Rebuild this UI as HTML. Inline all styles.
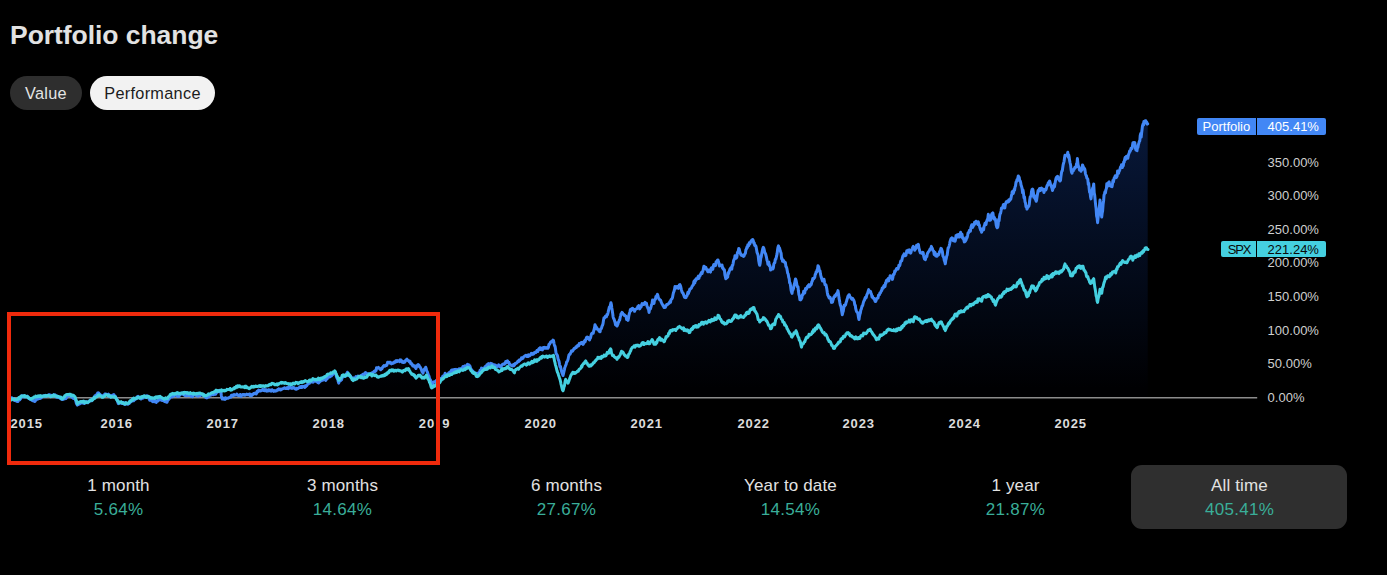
<!DOCTYPE html>
<html><head><meta charset="utf-8"><title>Portfolio change</title>
<style>
html,body{margin:0;padding:0;background:#000;}
body{width:1387px;height:575px;position:relative;overflow:hidden;font-family:"Liberation Sans",sans-serif;color:#e0e0e0;}
.title{position:absolute;left:10px;top:18.7px;font-size:26.5px;font-weight:bold;color:#e2e2e2;line-height:32px;white-space:nowrap;letter-spacing:-0.05px;}
.pill{position:absolute;top:76px;height:33.5px;border-radius:17px;font-size:16.3px;line-height:35.6px;text-align:center;letter-spacing:0.3px;}
.p1{left:10px;width:72px;background:#2e2e2e;color:#e4e4e4;}
.p2{left:90px;width:125px;background:#f2f2f2;color:#1c1c1c;}
.yl{position:absolute;left:1267.6px;font-size:13px;line-height:14px;color:#cfcfcf;}
.xl{position:absolute;top:417px;font-size:13px;font-weight:bold;line-height:14px;color:#dcdcdc;letter-spacing:0.9px;width:60px;text-align:center;margin-left:-30px;}
.tag{position:absolute;height:16.4px;line-height:18.2px;font-size:13px;text-align:center;border-radius:2px 0 0 2px;white-space:nowrap;overflow:hidden;}
.tv{border-radius:0 2px 2px 0;text-align:left;padding-left:10.8px;box-sizing:border-box;}
.st{position:absolute;top:465px;width:216px;height:64px;margin-left:-108px;text-align:center;border-radius:11px;}
.st .a{position:absolute;left:1px;right:0;top:11px;font-size:17px;line-height:20px;color:#e2e2e2;letter-spacing:0.15px;}
.st .b{position:absolute;left:1px;right:0;top:35.4px;font-size:17px;line-height:20px;color:#3aae99;letter-spacing:0.3px;}
.sel{background:#2f2f2f;}
.red{position:absolute;left:7px;top:312px;width:424.9px;height:145.2px;border:4px solid #f02a0c;}
svg{position:absolute;left:0;top:0;}
</style></head><body>
<div class="title">Portfolio change</div>
<div class="pill p1">Value</div>
<div class="pill p2">Performance</div>
<svg width="1387" height="575" viewBox="0 0 1387 575">
<defs><linearGradient id="g" x1="0" y1="110" x2="0" y2="400" gradientUnits="userSpaceOnUse">
<stop offset="0" stop-color="#08193c"/><stop offset="0.96" stop-color="#000002"/></linearGradient></defs>
<path d="M10.5,398.0 L11.0,398.2 L11.4,398.7 L11.9,397.8 L12.3,398.8 L12.8,398.3 L13.3,398.5 L13.7,399.4 L14.2,400.1 L14.6,400.6 L15.1,400.6 L15.6,400.5 L16.0,400.3 L16.5,401.2 L16.9,401.2 L17.4,401.6 L17.9,401.5 L18.3,400.4 L18.8,399.9 L19.3,400.0 L19.8,399.9 L20.2,398.7 L20.7,398.5 L21.2,397.6 L21.7,395.8 L22.1,396.6 L22.6,396.2 L23.1,396.0 L23.6,396.7 L24.1,397.0 L24.5,396.7 L25.0,396.4 L25.5,396.9 L26.0,396.5 L26.5,396.4 L27.0,396.4 L27.5,396.2 L28.0,397.0 L28.4,398.1 L28.9,398.4 L29.4,398.7 L29.9,398.6 L30.4,399.5 L30.9,399.5 L31.3,399.1 L31.8,400.2 L32.2,399.9 L32.7,400.7 L33.2,400.1 L33.6,400.7 L34.1,401.1 L34.5,401.5 L35.0,401.3 L35.5,400.4 L36.0,399.8 L36.4,399.6 L36.9,399.1 L37.4,398.4 L37.9,398.2 L38.4,398.9 L38.8,397.9 L39.3,398.4 L39.8,397.9 L40.3,398.4 L40.7,398.1 L41.2,397.9 L41.7,396.5 L42.2,396.2 L42.6,396.3 L43.1,396.3 L43.5,396.4 L44.0,395.8 L44.4,396.1 L44.9,395.7 L45.4,395.4 L45.8,395.7 L46.3,396.2 L46.7,395.9 L47.2,395.4 L47.7,395.4 L48.1,395.6 L48.6,394.7 L49.0,394.8 L49.5,394.8 L49.9,394.9 L50.4,395.3 L50.9,395.3 L51.3,395.3 L51.8,395.7 L52.3,395.5 L52.7,396.0 L53.2,396.0 L53.7,394.7 L54.1,395.5 L54.6,395.2 L55.1,394.8 L55.5,395.2 L56.0,395.8 L56.5,397.3 L56.9,396.4 L57.4,396.7 L57.9,397.2 L58.3,397.5 L58.8,396.9 L59.3,397.4 L59.7,398.0 L60.2,398.1 L60.7,398.7 L61.2,398.4 L61.6,398.5 L62.1,399.4 L62.6,399.4 L63.0,399.4 L63.5,399.3 L64.0,399.0 L64.5,398.4 L64.9,398.5 L65.4,398.0 L65.9,398.6 L66.4,397.7 L66.8,397.3 L67.3,396.3 L67.8,395.6 L68.3,395.3 L68.7,395.0 L69.2,395.4 L69.7,395.6 L70.1,396.0 L70.6,395.9 L71.1,396.0 L71.5,397.1 L72.0,396.6 L72.5,396.5 L72.9,397.1 L73.4,398.4 L73.9,398.0 L74.3,397.5 L74.8,398.1 L75.3,399.5 L75.8,400.9 L76.4,403.3 L76.9,404.3 L77.4,405.1 L77.9,404.1 L78.4,403.9 L78.8,404.3 L79.3,403.8 L79.8,403.8 L80.3,403.4 L80.7,402.2 L81.2,402.5 L81.7,401.7 L82.2,403.0 L82.6,402.8 L83.1,402.9 L83.6,403.1 L84.0,403.5 L84.5,403.5 L85.0,402.6 L85.5,402.3 L85.9,401.7 L86.4,401.6 L86.9,402.1 L87.3,402.3 L87.8,402.7 L88.3,402.1 L88.8,401.7 L89.3,401.1 L89.8,400.9 L90.2,400.1 L90.7,400.3 L91.2,400.8 L91.7,400.7 L92.2,399.1 L92.7,399.1 L93.1,398.9 L93.6,398.0 L94.0,398.0 L94.5,397.6 L94.9,395.7 L95.4,395.6 L95.8,396.0 L96.3,394.9 L96.7,394.4 L97.2,394.4 L97.6,393.1 L98.1,393.3 L98.5,392.8 L99.0,393.4 L99.5,394.7 L100.0,394.4 L100.5,395.1 L101.1,395.5 L101.6,395.8 L102.1,396.7 L102.6,396.8 L103.1,395.6 L103.6,395.3 L104.1,394.8 L104.5,395.3 L105.0,394.0 L105.5,393.9 L106.0,394.1 L106.5,394.3 L107.0,394.6 L107.4,394.4 L107.9,394.7 L108.4,394.2 L108.9,396.2 L109.4,395.7 L109.9,395.4 L110.3,396.7 L110.8,397.0 L111.3,396.6 L111.8,396.1 L112.3,395.2 L112.8,395.6 L113.3,395.0 L113.8,394.5 L114.3,396.2 L114.8,395.8 L115.3,396.3 L115.8,397.5 L116.3,398.5 L116.8,399.2 L117.3,400.5 L117.8,402.1 L118.3,403.6 L118.8,403.2 L119.2,403.1 L119.7,402.3 L120.2,402.8 L120.7,402.9 L121.1,403.3 L121.6,403.3 L122.1,403.5 L122.6,403.5 L123.0,402.5 L123.5,402.7 L124.0,403.3 L124.5,403.0 L124.9,404.5 L125.4,403.0 L125.9,403.4 L126.4,403.6 L126.8,403.2 L127.3,404.0 L127.8,404.3 L128.3,403.9 L128.8,403.7 L129.3,403.4 L129.8,401.7 L130.2,401.8 L130.7,401.9 L131.2,400.9 L131.7,401.1 L132.2,399.2 L132.7,400.0 L133.1,399.7 L133.6,400.8 L134.0,400.2 L134.5,399.6 L134.9,399.3 L135.4,399.2 L135.8,398.2 L136.3,397.7 L136.7,398.6 L137.2,396.8 L137.6,396.9 L138.1,396.3 L138.5,397.0 L139.0,397.2 L139.5,397.3 L139.9,397.6 L140.4,397.8 L140.9,399.0 L141.3,398.5 L141.8,398.6 L142.2,397.3 L142.7,397.3 L143.2,397.4 L143.6,397.8 L144.1,396.8 L144.6,396.1 L145.0,396.9 L145.5,397.0 L145.9,396.5 L146.4,395.9 L146.9,396.9 L147.3,395.9 L147.8,396.6 L148.3,397.2 L148.7,398.2 L149.2,399.0 L149.7,400.2 L150.2,399.6 L150.6,399.6 L151.1,400.3 L151.6,399.4 L152.1,400.5 L152.5,401.6 L153.0,400.6 L153.5,401.4 L153.9,400.8 L154.4,401.7 L154.9,401.1 L155.3,400.4 L155.8,401.6 L156.3,402.4 L156.7,401.6 L157.2,401.3 L157.7,401.0 L158.1,401.0 L158.6,400.1 L159.1,399.0 L159.5,399.4 L160.0,399.5 L160.5,399.0 L160.9,399.4 L161.4,400.3 L161.9,400.4 L162.3,400.4 L162.8,400.2 L163.3,399.7 L163.7,400.5 L164.2,401.3 L164.7,400.9 L165.1,401.6 L165.6,401.4 L166.1,401.9 L166.5,402.1 L167.0,402.3 L167.5,400.8 L167.9,399.9 L168.4,399.8 L168.8,399.1 L169.3,398.6 L169.7,398.0 L170.2,397.5 L170.6,397.1 L171.1,396.6 L171.5,396.8 L172.0,396.0 L172.5,396.7 L172.9,396.2 L173.4,395.3 L173.8,395.0 L174.3,395.7 L174.8,395.0 L175.2,395.1 L175.7,394.0 L176.1,395.3 L176.6,395.2 L177.1,395.0 L177.5,396.4 L178.0,395.9 L178.5,395.6 L178.9,396.2 L179.4,395.6 L179.8,394.9 L180.3,394.5 L180.8,393.5 L181.2,393.3 L181.7,394.0 L182.1,393.1 L182.6,394.1 L183.1,393.7 L183.5,393.9 L184.0,394.8 L184.4,395.2 L184.9,395.5 L185.3,395.5 L185.8,395.1 L186.2,395.8 L186.7,395.7 L187.1,395.0 L187.6,395.5 L188.0,394.7 L188.5,395.3 L188.9,395.5 L189.4,395.4 L189.8,395.1 L190.3,395.5 L190.7,395.1 L191.2,396.3 L191.6,396.5 L192.1,395.8 L192.5,396.7 L193.0,395.3 L193.4,395.1 L193.9,394.6 L194.3,394.7 L194.8,394.7 L195.3,395.2 L195.7,395.2 L196.2,395.6 L196.6,394.6 L197.1,395.3 L197.6,395.4 L198.0,396.2 L198.5,395.8 L198.9,395.3 L199.4,394.9 L199.9,395.5 L200.3,395.6 L200.8,394.6 L201.2,394.3 L201.7,394.5 L202.2,394.7 L202.7,394.3 L203.1,395.3 L203.6,395.0 L204.1,394.7 L204.6,395.1 L205.0,396.8 L205.5,397.3 L206.0,397.7 L206.5,397.2 L207.0,397.8 L207.5,397.4 L208.0,396.7 L208.4,396.7 L208.9,397.0 L209.4,395.5 L209.9,395.3 L210.4,394.3 L210.9,395.1 L211.3,395.1 L211.8,394.4 L212.3,394.5 L212.8,394.4 L213.2,394.5 L213.7,394.8 L214.2,394.3 L214.6,393.8 L215.1,393.6 L215.6,394.1 L216.1,393.4 L216.5,392.7 L217.0,391.8 L217.5,391.7 L218.0,391.1 L218.5,391.7 L218.9,391.3 L219.4,390.4 L219.9,390.6 L220.4,390.6 L220.9,392.3 L221.3,395.3 L221.8,398.1 L222.3,399.0 L222.7,398.1 L223.2,398.6 L223.7,398.1 L224.1,399.2 L224.6,398.7 L225.1,399.3 L225.5,397.8 L226.0,398.1 L226.5,398.4 L226.9,398.2 L227.4,398.1 L227.9,398.2 L228.3,397.9 L228.8,397.9 L229.2,397.4 L229.7,397.3 L230.1,397.3 L230.6,396.6 L231.0,397.1 L231.5,395.2 L231.9,395.5 L232.4,395.5 L232.8,395.0 L233.3,395.4 L233.7,395.4 L234.2,394.5 L234.6,395.3 L235.1,394.9 L235.5,394.9 L236.0,395.0 L236.5,394.9 L236.9,394.0 L237.4,394.7 L237.9,395.4 L238.4,395.6 L238.8,395.6 L239.3,395.3 L239.8,395.7 L240.2,394.5 L240.7,395.4 L241.2,396.4 L241.6,395.1 L242.1,395.0 L242.6,394.6 L243.1,394.4 L243.5,394.4 L244.0,395.2 L244.5,394.5 L244.9,395.3 L245.4,394.8 L245.8,394.9 L246.3,394.4 L246.7,394.1 L247.2,394.6 L247.6,394.8 L248.1,394.6 L248.5,394.7 L249.0,394.1 L249.4,394.0 L249.9,395.5 L250.3,395.3 L250.8,394.4 L251.2,395.8 L251.7,395.6 L252.2,394.7 L252.6,394.7 L253.1,394.1 L253.5,393.6 L254.0,393.8 L254.4,393.3 L254.9,393.7 L255.4,393.1 L255.8,392.9 L256.3,393.9 L256.7,393.1 L257.2,391.2 L257.7,392.0 L258.1,391.3 L258.6,390.1 L259.0,391.0 L259.5,390.8 L259.9,390.6 L260.4,391.1 L260.9,390.9 L261.3,390.3 L261.8,390.2 L262.3,389.8 L262.8,389.3 L263.2,390.4 L263.7,389.7 L264.2,389.8 L264.6,390.8 L265.1,389.6 L265.6,390.3 L266.1,390.8 L266.5,389.9 L267.0,391.2 L267.5,390.5 L267.9,390.1 L268.4,390.8 L268.8,389.7 L269.3,390.2 L269.7,390.8 L270.2,390.6 L270.6,390.1 L271.1,391.1 L271.6,390.5 L272.0,389.7 L272.5,390.2 L272.9,390.2 L273.4,391.2 L273.8,391.4 L274.3,391.2 L274.8,390.6 L275.2,390.7 L275.7,391.1 L276.1,390.6 L276.6,390.7 L277.0,390.2 L277.5,389.6 L278.0,389.6 L278.4,389.9 L278.9,388.8 L279.3,389.7 L279.8,389.5 L280.3,389.1 L280.7,390.0 L281.2,389.5 L281.6,389.4 L282.1,389.0 L282.5,388.7 L283.0,388.7 L283.5,388.3 L283.9,388.5 L284.4,387.8 L284.9,387.9 L285.4,388.4 L285.8,388.3 L286.3,388.5 L286.8,388.3 L287.2,387.6 L287.7,388.0 L288.2,388.6 L288.6,388.4 L289.1,386.7 L289.6,388.0 L290.1,387.2 L290.5,388.0 L291.0,387.9 L291.5,387.9 L291.9,388.3 L292.4,387.6 L292.8,388.3 L293.3,387.5 L293.7,388.0 L294.2,387.8 L294.6,388.1 L295.1,388.7 L295.5,389.0 L296.0,389.2 L296.4,389.3 L296.9,388.4 L297.3,388.8 L297.8,388.6 L298.2,388.3 L298.7,388.0 L299.2,387.7 L299.6,387.0 L300.1,387.3 L300.6,386.6 L301.0,387.6 L301.5,387.6 L302.0,386.4 L302.4,387.1 L302.9,386.4 L303.4,386.6 L303.9,386.6 L304.3,386.6 L304.8,387.4 L305.3,385.8 L305.7,386.6 L306.2,385.8 L306.7,385.7 L307.1,385.0 L307.6,384.2 L308.1,383.3 L308.5,383.8 L309.0,383.4 L309.5,383.2 L309.9,382.5 L310.4,382.2 L310.8,381.4 L311.3,381.6 L311.7,382.0 L312.2,381.8 L312.6,381.9 L313.1,382.2 L313.5,381.8 L314.0,381.0 L314.5,380.8 L314.9,380.8 L315.4,380.8 L315.9,381.1 L316.3,381.5 L316.8,381.7 L317.3,381.2 L317.7,382.6 L318.2,382.7 L318.7,383.0 L319.1,382.0 L319.6,382.0 L320.1,380.5 L320.5,380.2 L321.0,380.0 L321.5,380.7 L321.9,380.4 L322.4,380.0 L322.9,380.1 L323.3,379.2 L323.8,379.2 L324.3,378.8 L324.7,377.8 L325.2,379.3 L325.7,380.4 L326.1,378.5 L326.6,378.6 L327.1,378.9 L327.5,377.9 L328.0,376.7 L328.5,377.0 L328.9,377.0 L329.4,377.1 L329.9,376.6 L330.3,376.5 L330.8,376.1 L331.3,375.2 L331.7,375.6 L332.2,374.2 L332.7,374.6 L333.1,373.9 L333.6,373.0 L334.1,372.9 L334.5,372.7 L335.0,372.1 L335.5,372.4 L335.9,374.0 L336.4,376.7 L336.9,377.8 L337.3,378.8 L337.8,379.3 L338.2,381.4 L338.7,383.1 L339.2,381.1 L339.6,380.9 L340.1,380.8 L340.6,380.7 L341.1,379.4 L341.6,379.6 L342.0,377.7 L342.5,376.5 L343.0,377.0 L343.5,376.9 L344.0,375.9 L344.5,376.5 L344.9,375.7 L345.4,375.8 L345.9,375.0 L346.4,373.7 L346.9,374.0 L347.4,372.3 L347.9,373.3 L348.3,374.7 L348.8,375.4 L349.3,375.8 L349.8,375.1 L350.2,375.9 L350.7,376.4 L351.2,377.8 L351.7,377.9 L352.1,378.2 L352.6,378.4 L353.1,377.9 L353.6,378.7 L354.1,379.3 L354.6,379.5 L355.1,378.9 L355.5,377.5 L356.0,376.6 L356.5,376.8 L357.0,376.4 L357.5,376.4 L358.0,376.1 L358.5,376.4 L358.9,376.4 L359.4,376.9 L359.8,376.5 L360.3,376.6 L360.7,375.9 L361.2,375.4 L361.6,375.8 L362.1,375.1 L362.5,375.7 L363.0,374.3 L363.5,374.0 L364.0,374.6 L364.5,373.8 L365.0,374.0 L365.5,372.6 L366.0,372.8 L366.5,373.8 L366.9,373.6 L367.4,374.3 L367.9,373.8 L368.3,373.7 L368.8,373.9 L369.2,374.0 L369.6,374.1 L370.1,374.0 L370.6,374.0 L371.0,373.4 L371.5,373.3 L371.9,372.9 L372.4,373.5 L372.8,373.0 L373.3,372.2 L373.8,372.0 L374.2,371.3 L374.7,371.2 L375.2,371.5 L375.6,370.3 L376.1,370.4 L376.5,367.8 L377.0,367.9 L377.5,368.1 L377.9,367.8 L378.4,367.4 L378.8,368.1 L379.3,368.0 L379.7,368.8 L380.2,368.7 L380.6,369.8 L381.1,369.4 L381.5,368.6 L382.0,368.8 L382.5,367.5 L382.9,366.8 L383.4,366.3 L383.9,365.6 L384.3,366.1 L384.8,366.2 L385.3,365.9 L385.7,365.1 L386.2,365.0 L386.7,365.4 L387.1,364.3 L387.6,362.3 L388.1,362.2 L388.5,362.2 L389.0,362.7 L389.5,362.7 L390.0,362.2 L390.5,363.3 L391.0,363.2 L391.5,363.9 L392.0,362.9 L392.5,363.4 L393.0,363.2 L393.5,363.2 L394.0,362.4 L394.4,361.8 L394.9,361.9 L395.4,362.1 L395.9,360.8 L396.4,360.7 L396.8,360.6 L397.3,361.4 L397.8,360.8 L398.3,361.0 L398.7,360.9 L399.2,360.5 L399.7,361.6 L400.2,359.9 L400.6,360.4 L401.1,360.1 L401.6,361.2 L402.1,362.1 L402.5,361.3 L403.0,362.5 L403.5,362.5 L404.0,361.9 L404.4,361.5 L404.9,362.1 L405.4,360.6 L405.9,360.2 L406.4,359.6 L406.9,359.2 L407.3,360.2 L407.8,360.1 L408.3,360.7 L408.8,360.9 L409.3,361.8 L409.8,361.2 L410.2,361.6 L410.7,363.6 L411.2,363.9 L411.7,363.6 L412.2,364.8 L412.7,365.9 L413.1,365.1 L413.6,366.1 L414.1,365.8 L414.6,365.9 L415.0,367.4 L415.5,367.5 L416.0,368.5 L416.5,365.7 L417.1,366.6 L417.6,364.9 L418.2,364.5 L418.7,365.1 L419.2,365.6 L419.7,367.0 L420.1,367.1 L420.6,368.0 L421.1,368.9 L421.6,370.2 L422.0,371.7 L422.5,372.1 L423.0,373.1 L423.5,370.9 L424.1,369.7 L424.6,368.8 L425.2,368.9 L425.7,367.2 L426.2,368.5 L426.6,370.8 L427.1,371.4 L427.6,372.6 L428.1,374.1 L428.5,375.5 L429.0,376.1 L429.4,378.1 L429.9,379.4 L430.4,379.8 L430.8,381.5 L431.2,381.6 L431.7,383.0 L432.2,384.0 L432.6,384.3 L433.5,382.0 L434.0,382.2 L434.5,381.9 L435.0,381.4 L435.5,381.5 L436.0,380.9 L436.5,380.4 L437.0,381.2 L437.5,379.6 L438.0,380.2 L438.4,378.9 L438.9,378.6 L439.4,379.1 L439.9,379.9 L440.4,379.1 L440.9,378.4 L441.3,378.3 L441.8,378.4 L442.3,377.6 L442.7,376.4 L443.2,376.7 L443.7,375.6 L444.1,376.1 L444.6,375.5 L445.1,373.2 L445.5,375.4 L446.0,375.2 L446.5,375.5 L446.9,375.0 L447.4,374.7 L447.9,373.8 L448.3,373.8 L448.8,372.9 L449.2,373.5 L449.7,373.2 L450.1,372.1 L450.6,371.6 L451.0,371.2 L451.5,370.2 L451.9,369.9 L452.4,370.0 L452.8,370.8 L453.3,370.5 L453.7,369.6 L454.2,369.5 L454.6,369.4 L455.1,369.7 L455.5,369.8 L456.0,369.3 L456.5,369.9 L456.9,370.1 L457.4,370.0 L457.8,369.5 L458.3,369.8 L458.8,370.0 L459.2,368.8 L459.7,369.5 L460.2,369.0 L460.6,368.7 L461.1,368.6 L461.5,368.4 L462.0,368.4 L462.5,367.5 L463.0,366.5 L463.5,367.2 L464.0,366.2 L464.5,366.3 L464.9,365.9 L465.4,366.9 L465.9,365.9 L466.4,365.8 L466.9,365.3 L467.4,364.4 L467.9,364.8 L468.3,365.8 L468.8,364.9 L469.3,365.6 L469.8,365.9 L470.2,366.9 L470.7,368.8 L471.2,369.9 L471.7,369.7 L472.1,370.6 L472.6,372.3 L473.1,372.1 L473.5,371.9 L474.0,372.9 L474.5,373.1 L475.0,373.8 L475.4,373.7 L475.9,373.1 L476.4,373.7 L476.9,374.5 L477.3,374.8 L477.8,375.3 L478.3,373.1 L478.7,373.8 L479.2,372.5 L479.7,372.0 L480.1,370.2 L480.6,370.4 L481.1,369.6 L481.5,368.1 L482.0,368.4 L482.5,368.6 L482.9,368.6 L483.4,369.1 L483.8,368.9 L484.3,367.8 L484.7,368.0 L485.2,366.6 L485.6,367.5 L486.1,366.0 L486.5,366.3 L487.0,364.7 L487.5,364.3 L487.9,364.3 L488.4,363.7 L488.9,365.1 L489.3,364.7 L489.8,364.4 L490.3,363.8 L490.7,363.3 L491.2,363.6 L491.7,363.7 L492.1,364.0 L492.6,364.2 L493.1,364.8 L493.5,365.2 L494.0,365.4 L494.5,364.8 L495.0,365.0 L495.4,365.2 L495.9,366.9 L496.4,365.6 L496.9,366.1 L497.3,366.5 L497.8,365.7 L498.3,365.8 L498.7,364.9 L499.2,365.4 L499.7,366.6 L500.2,365.8 L500.6,366.8 L501.1,366.7 L501.6,365.5 L502.1,364.7 L502.5,364.5 L503.0,364.4 L503.5,363.9 L503.9,364.1 L504.4,364.3 L504.8,363.6 L505.3,363.2 L505.7,361.6 L506.2,362.5 L506.6,362.7 L507.1,362.0 L507.5,360.8 L508.0,362.1 L508.5,362.3 L508.9,362.2 L509.4,364.3 L509.8,364.0 L510.3,364.7 L510.8,365.2 L511.2,365.3 L511.7,365.8 L512.2,365.7 L512.6,366.0 L513.1,365.0 L513.5,364.5 L514.0,365.8 L514.5,365.0 L514.9,363.8 L515.4,363.3 L515.9,363.4 L516.4,363.1 L516.8,363.1 L517.3,362.2 L517.8,361.3 L518.2,361.6 L518.7,361.5 L519.2,360.0 L519.6,360.7 L520.1,359.8 L520.6,359.7 L521.1,359.3 L521.5,357.8 L522.0,357.9 L522.5,357.9 L522.9,358.4 L523.4,357.2 L523.9,356.5 L524.3,356.3 L524.8,356.0 L525.3,355.8 L525.7,355.4 L526.2,355.7 L526.7,356.5 L527.2,355.2 L527.6,356.0 L528.1,356.5 L528.6,354.9 L529.0,356.0 L529.5,355.2 L530.0,355.6 L530.4,354.9 L530.9,354.7 L531.4,353.3 L531.8,354.0 L532.3,354.0 L532.7,354.3 L533.2,353.3 L533.6,353.9 L534.1,353.4 L534.6,352.4 L535.0,352.4 L535.5,352.0 L535.9,352.5 L536.4,351.8 L536.9,350.6 L537.3,351.1 L537.8,351.5 L538.2,349.7 L538.7,350.1 L539.1,348.5 L539.6,349.1 L540.1,347.7 L540.5,349.6 L541.0,348.0 L541.5,348.5 L541.9,349.8 L542.4,349.9 L542.9,348.6 L543.3,347.5 L543.8,348.1 L544.3,347.4 L544.7,348.2 L545.2,347.5 L545.7,348.2 L546.1,348.2 L546.6,347.6 L547.1,348.2 L547.5,348.0 L548.0,348.2 L548.5,347.1 L548.9,344.5 L549.4,344.5 L549.8,343.8 L550.3,342.5 L550.8,341.9 L551.2,342.1 L551.7,341.9 L552.1,341.1 L552.6,341.1 L553.0,340.1 L553.5,340.6 L554.0,343.3 L554.5,345.7 L555.0,346.1 L555.5,349.1 L556.0,353.0 L556.5,354.1 L557.0,354.7 L557.5,355.8 L558.0,358.7 L558.5,360.2 L559.0,361.2 L559.5,364.3 L560.0,366.6 L560.5,366.5 L561.0,369.2 L561.5,371.0 L562.0,372.9 L562.5,374.1 L563.0,375.5 L563.5,373.7 L563.9,371.8 L564.4,369.6 L564.8,367.5 L565.2,366.6 L565.7,365.3 L566.2,364.2 L566.6,361.9 L567.1,361.7 L567.6,360.6 L568.1,359.2 L568.5,357.0 L569.0,354.7 L569.5,354.4 L570.0,354.3 L570.5,353.1 L571.0,352.2 L571.5,350.9 L572.0,351.3 L572.5,351.3 L573.0,350.5 L573.5,349.6 L574.0,348.6 L574.4,348.7 L574.9,348.4 L575.4,347.9 L575.9,346.9 L576.4,347.4 L576.8,346.4 L577.3,345.7 L577.8,345.4 L578.3,346.0 L578.7,345.7 L579.2,343.6 L579.7,344.1 L580.2,343.9 L580.6,343.7 L581.1,342.5 L581.6,342.5 L582.1,342.3 L582.5,342.5 L583.0,344.4 L583.5,343.6 L584.0,342.1 L584.5,340.9 L585.0,342.0 L585.5,340.6 L586.0,338.9 L586.5,337.5 L587.0,337.0 L587.5,338.4 L588.0,337.3 L588.5,338.3 L589.0,339.2 L589.5,340.0 L590.0,338.6 L590.5,337.9 L590.9,336.1 L591.4,334.2 L591.8,333.4 L592.3,333.0 L592.7,333.1 L593.2,333.2 L593.6,331.2 L594.1,329.4 L594.5,327.9 L595.0,324.7 L595.5,326.1 L595.9,326.5 L596.4,328.7 L596.8,327.7 L597.3,329.1 L597.8,329.4 L598.2,329.8 L598.7,330.3 L599.1,331.2 L599.6,331.6 L600.1,331.8 L600.6,329.0 L601.1,329.0 L601.6,327.9 L602.0,326.2 L602.5,325.3 L603.0,323.7 L603.5,320.3 L604.0,317.7 L604.5,318.1 L605.0,317.3 L605.5,316.2 L606.0,315.8 L606.5,316.8 L607.0,314.4 L607.5,314.6 L608.0,312.8 L608.5,310.6 L609.0,308.6 L609.4,306.9 L609.9,306.8 L610.4,305.2 L610.9,302.7 L611.4,304.6 L611.8,307.9 L612.2,310.3 L612.7,313.6 L613.1,316.8 L613.6,318.6 L614.1,319.2 L614.6,321.1 L615.1,322.5 L615.5,324.7 L616.0,322.8 L616.5,325.6 L617.0,326.0 L617.5,325.0 L617.9,324.1 L618.4,322.2 L618.8,321.7 L619.3,320.1 L619.7,319.9 L620.2,317.2 L620.6,315.8 L621.1,313.7 L621.5,313.9 L622.0,312.4 L622.5,312.8 L622.9,314.1 L623.4,314.3 L623.8,314.4 L624.3,315.5 L624.8,315.2 L625.2,315.9 L625.7,315.9 L626.2,317.1 L626.6,319.6 L627.1,318.1 L627.5,319.7 L628.0,320.4 L628.5,318.1 L628.9,315.3 L629.4,313.4 L629.9,311.9 L630.4,309.5 L630.8,310.9 L631.3,309.0 L631.8,309.9 L632.2,308.4 L632.7,308.3 L633.2,309.0 L633.6,309.2 L634.1,309.2 L634.6,311.3 L635.0,309.5 L635.5,309.5 L636.0,309.1 L636.4,308.8 L636.9,308.6 L637.4,308.1 L637.8,306.5 L638.3,306.8 L638.8,305.6 L639.2,306.4 L639.7,308.9 L640.2,307.9 L640.7,306.0 L641.2,306.7 L641.6,304.9 L642.1,303.6 L642.6,303.9 L643.1,303.8 L643.6,304.6 L644.0,304.5 L644.5,303.3 L645.0,302.4 L645.5,303.1 L646.0,303.1 L646.5,303.4 L647.0,306.3 L647.5,307.0 L648.0,308.6 L648.5,309.0 L649.0,312.4 L649.5,309.4 L650.0,308.3 L650.5,308.7 L651.0,306.8 L651.5,304.9 L652.0,303.8 L652.5,300.1 L653.0,301.0 L653.5,302.2 L654.0,303.4 L654.5,300.1 L655.0,299.3 L655.4,299.4 L655.9,296.4 L656.4,297.3 L656.9,295.5 L657.4,294.4 L657.9,295.6 L658.3,297.5 L658.8,298.6 L659.3,299.1 L659.8,299.9 L660.2,300.0 L660.7,300.3 L661.2,302.2 L661.7,303.2 L662.1,303.9 L662.6,304.9 L663.1,305.9 L663.5,306.2 L664.0,307.5 L664.4,306.8 L664.9,306.1 L665.3,307.4 L665.8,306.2 L666.3,305.5 L666.7,304.5 L667.2,304.6 L667.7,304.6 L668.2,303.7 L668.6,303.8 L669.1,303.3 L669.6,302.1 L670.1,301.4 L670.5,302.3 L671.0,299.6 L671.5,299.2 L672.0,298.8 L672.5,297.5 L673.0,294.8 L673.5,292.5 L674.0,291.4 L674.5,289.4 L675.0,286.6 L675.5,287.8 L676.0,287.9 L676.5,288.0 L677.0,286.5 L677.5,287.5 L677.9,287.8 L678.4,288.3 L678.9,286.0 L679.4,284.8 L679.9,284.6 L680.4,285.6 L680.9,287.5 L681.3,289.3 L681.8,291.3 L682.2,292.4 L682.7,292.7 L683.1,293.3 L683.6,294.7 L684.0,295.8 L684.5,297.2 L685.0,297.5 L685.5,296.7 L685.9,297.7 L686.4,296.2 L686.9,296.2 L687.4,294.5 L687.9,292.4 L688.4,293.6 L688.8,292.3 L689.3,291.0 L689.8,289.1 L690.2,289.1 L690.7,288.6 L691.1,288.4 L691.6,287.7 L692.0,286.3 L692.5,285.9 L692.9,285.0 L693.4,284.8 L693.9,281.6 L694.3,280.9 L694.8,283.0 L695.2,280.0 L695.6,280.8 L696.1,278.9 L696.5,279.2 L697.0,279.2 L697.5,278.7 L697.9,277.1 L698.4,276.1 L698.9,278.4 L699.3,276.3 L699.8,276.0 L700.2,275.5 L700.7,273.9 L701.2,273.2 L701.6,272.2 L702.1,273.5 L702.5,271.6 L703.0,270.8 L703.5,268.1 L703.9,266.2 L704.4,268.1 L704.9,267.1 L705.3,268.7 L705.8,267.4 L706.3,268.7 L706.7,269.9 L707.2,269.5 L707.7,271.6 L708.1,271.8 L708.6,270.8 L709.1,270.1 L709.5,270.7 L710.0,270.6 L710.5,272.1 L711.0,268.5 L711.4,267.9 L711.9,267.5 L712.4,267.9 L712.8,269.4 L713.3,266.1 L713.8,264.4 L714.2,264.4 L714.7,265.8 L715.2,264.6 L715.6,265.5 L716.1,261.8 L716.6,262.2 L717.1,261.1 L717.5,260.2 L718.0,260.0 L718.5,261.9 L719.0,263.2 L719.5,266.1 L720.0,264.6 L720.5,265.0 L721.0,265.5 L721.5,265.6 L722.0,265.0 L722.5,268.1 L723.0,267.9 L723.4,269.4 L723.9,269.6 L724.4,269.9 L724.9,274.9 L725.3,276.4 L725.8,278.7 L726.3,278.0 L726.8,278.0 L727.2,277.3 L727.7,277.1 L728.1,272.8 L728.6,273.7 L729.0,272.1 L729.5,270.5 L730.0,269.1 L730.4,268.4 L730.9,267.8 L731.3,267.5 L731.8,269.2 L732.2,265.5 L732.7,265.3 L733.1,263.6 L733.6,260.5 L734.1,259.3 L734.5,259.1 L735.0,255.8 L735.5,258.4 L736.0,257.5 L736.4,257.9 L736.9,256.8 L737.4,252.6 L737.9,252.8 L738.3,250.8 L738.8,248.4 L739.3,249.3 L739.7,251.4 L740.2,252.7 L740.7,254.3 L741.2,255.2 L741.6,255.4 L742.1,255.6 L742.6,255.1 L743.1,255.7 L743.5,256.4 L744.0,256.2 L744.5,254.5 L745.0,253.7 L745.4,253.2 L745.9,249.7 L746.4,249.1 L746.9,247.0 L747.4,247.6 L747.9,244.8 L748.3,245.7 L748.8,245.5 L749.3,242.7 L749.8,243.9 L750.3,242.7 L750.8,241.6 L751.3,240.7 L751.8,240.1 L752.3,240.7 L752.8,239.6 L753.3,240.8 L753.8,243.3 L754.2,242.9 L754.7,245.4 L755.2,245.8 L755.6,245.6 L756.1,246.9 L756.6,249.7 L757.1,252.7 L757.6,253.7 L758.2,255.5 L758.7,260.8 L759.2,263.6 L759.7,265.3 L760.2,263.2 L760.7,258.5 L761.2,257.1 L761.8,253.3 L762.3,250.8 L762.8,248.6 L763.3,247.4 L763.7,248.0 L764.2,249.9 L764.7,252.4 L765.1,253.0 L765.6,253.9 L766.1,255.8 L766.5,257.4 L767.0,260.3 L767.5,261.3 L767.9,264.3 L768.4,264.1 L768.8,262.0 L769.3,265.9 L769.7,265.2 L770.2,266.9 L770.6,270.1 L771.1,268.0 L771.5,268.3 L772.0,269.1 L772.4,268.8 L772.9,268.9 L773.4,267.7 L773.8,264.2 L774.3,263.0 L774.8,262.9 L775.2,259.6 L775.7,259.6 L776.2,257.6 L776.6,256.2 L777.1,253.6 L777.6,249.6 L778.0,247.2 L778.5,245.8 L779.0,247.8 L779.5,248.0 L780.0,249.8 L780.6,251.8 L781.1,253.2 L781.6,258.8 L782.1,258.5 L782.5,261.3 L783.0,261.3 L783.5,260.3 L784.0,262.0 L784.4,262.0 L784.9,262.0 L785.4,262.6 L785.9,266.5 L786.3,266.9 L786.8,268.2 L787.3,271.0 L787.7,273.2 L788.2,274.0 L788.7,277.2 L789.2,278.7 L789.6,282.9 L790.1,282.9 L790.6,286.3 L791.1,290.2 L791.5,291.9 L792.0,293.4 L792.5,290.5 L793.0,289.8 L793.5,288.4 L794.0,285.3 L794.5,283.7 L795.0,281.3 L795.5,278.9 L796.0,280.0 L796.5,282.5 L797.0,285.6 L797.5,287.0 L798.0,286.8 L798.4,290.8 L798.9,294.5 L799.4,296.1 L799.9,299.7 L800.4,299.9 L800.9,299.8 L801.3,298.8 L801.8,297.9 L802.3,294.8 L802.8,294.8 L803.2,294.3 L803.7,291.2 L804.2,292.7 L804.7,292.9 L805.1,290.6 L805.6,288.4 L806.1,289.4 L806.6,288.9 L807.0,287.7 L807.5,286.3 L808.0,286.1 L808.5,285.2 L809.0,284.6 L809.5,286.8 L809.9,284.9 L810.4,285.1 L810.9,285.1 L811.4,283.9 L811.8,281.8 L812.3,281.2 L812.8,278.5 L813.3,278.5 L813.7,278.8 L814.2,277.8 L814.7,277.6 L815.2,274.4 L815.6,274.2 L816.1,271.9 L816.6,272.2 L817.1,269.9 L817.5,269.5 L818.0,265.8 L818.5,266.4 L819.0,268.4 L819.5,271.3 L820.0,270.8 L820.5,274.1 L821.0,276.5 L821.5,278.0 L822.0,279.5 L822.5,281.0 L823.0,280.3 L823.5,279.3 L824.0,279.3 L824.5,282.3 L825.0,284.6 L825.5,284.8 L826.0,285.0 L826.4,286.9 L826.9,289.6 L827.3,292.5 L827.8,295.1 L828.2,295.3 L828.7,297.0 L829.1,297.9 L829.6,297.4 L830.1,297.3 L830.6,298.5 L831.0,299.7 L831.5,302.4 L832.0,301.1 L832.5,302.2 L833.0,300.0 L833.4,298.9 L833.9,297.0 L834.3,296.9 L834.8,295.5 L835.2,296.4 L835.7,295.3 L836.2,294.1 L836.6,294.4 L837.1,292.9 L837.5,293.1 L838.0,290.6 L838.5,294.0 L839.0,298.1 L839.4,300.1 L839.9,303.1 L840.4,305.5 L840.9,306.3 L841.3,308.6 L841.8,311.8 L842.3,314.7 L842.8,312.4 L843.2,311.5 L843.7,308.2 L844.2,305.2 L844.6,306.0 L845.1,305.4 L845.6,304.6 L846.0,302.8 L846.5,301.5 L847.0,299.3 L847.4,298.5 L847.9,296.3 L848.4,295.6 L848.8,294.9 L849.3,294.7 L849.7,296.5 L850.2,296.9 L850.6,297.4 L851.1,298.5 L851.6,298.5 L852.0,299.3 L852.5,298.3 L852.9,299.5 L853.4,299.5 L853.9,300.7 L854.3,301.8 L854.8,305.1 L855.3,305.2 L855.7,308.5 L856.2,310.4 L856.7,311.8 L857.1,312.0 L857.6,312.6 L858.1,314.7 L858.5,317.6 L859.0,319.5 L859.5,316.1 L859.9,314.4 L860.4,312.8 L860.8,310.0 L861.2,309.3 L861.7,307.4 L862.1,306.0 L862.6,305.7 L863.0,304.0 L863.5,302.0 L864.0,300.7 L864.4,300.5 L864.9,298.4 L865.4,297.4 L865.9,297.9 L866.3,297.3 L866.8,294.8 L867.3,293.8 L867.8,292.9 L868.2,291.2 L868.7,289.6 L869.2,291.7 L869.6,291.5 L870.1,291.7 L870.6,291.5 L871.0,293.4 L871.5,294.2 L872.0,297.1 L872.4,296.2 L872.9,297.7 L873.4,298.3 L873.8,298.7 L874.3,298.6 L874.8,300.5 L875.2,301.4 L875.7,301.4 L876.2,300.2 L876.6,298.7 L877.1,298.4 L877.6,298.1 L878.0,298.1 L878.5,295.3 L879.0,294.7 L879.4,294.8 L879.9,292.9 L880.4,293.0 L880.8,292.0 L881.3,290.7 L881.8,290.5 L882.2,288.0 L882.7,287.9 L883.2,288.2 L883.6,286.4 L884.1,285.4 L884.5,285.3 L885.0,286.6 L885.5,283.0 L885.9,283.3 L886.4,280.5 L886.9,281.3 L887.3,279.7 L887.8,279.5 L888.2,278.6 L888.7,280.9 L889.2,278.5 L889.6,278.2 L890.1,275.7 L890.6,276.8 L891.0,276.1 L891.5,276.9 L891.9,277.0 L892.4,279.4 L892.9,277.4 L893.3,274.4 L893.8,274.7 L894.3,273.9 L894.7,271.1 L895.2,271.7 L895.7,270.5 L896.1,269.7 L896.6,268.5 L897.1,269.2 L897.5,268.4 L898.0,269.0 L898.5,267.6 L898.9,265.3 L899.4,266.1 L899.9,265.1 L900.3,262.9 L900.8,261.0 L901.3,261.0 L901.7,260.8 L902.2,258.6 L902.7,256.5 L903.1,255.5 L903.6,255.9 L904.1,253.9 L904.5,255.0 L905.0,255.8 L905.4,255.0 L905.9,255.4 L906.3,253.0 L906.8,250.8 L907.3,251.8 L907.7,250.8 L908.2,250.2 L908.6,252.2 L909.1,250.5 L909.5,249.9 L910.0,251.4 L910.5,253.1 L910.9,252.7 L911.4,250.4 L911.9,249.4 L912.3,248.5 L912.8,247.2 L913.3,246.4 L913.8,247.3 L914.2,247.8 L914.7,250.3 L915.2,249.3 L915.6,248.9 L916.1,247.8 L916.6,245.2 L917.0,246.3 L917.5,245.5 L918.0,246.1 L918.4,244.4 L918.9,248.0 L919.4,249.6 L919.8,251.4 L920.3,252.9 L920.8,252.6 L921.2,252.5 L921.7,253.0 L922.2,253.5 L922.6,252.3 L923.1,252.6 L923.6,255.5 L924.0,257.3 L924.5,259.0 L925.0,258.8 L925.4,259.6 L925.9,257.4 L926.3,256.1 L926.8,256.7 L927.3,253.8 L927.7,253.2 L928.2,252.1 L928.6,251.6 L929.1,251.2 L929.6,250.1 L930.0,249.2 L930.5,248.5 L930.9,248.5 L931.4,246.4 L931.9,248.3 L932.3,248.3 L932.8,250.3 L933.3,250.8 L933.7,251.0 L934.2,254.5 L934.7,253.8 L935.1,252.5 L935.6,255.9 L936.1,255.9 L936.5,255.4 L937.0,256.3 L937.5,254.5 L938.0,255.1 L938.5,254.9 L939.0,253.7 L939.5,251.9 L940.0,250.9 L940.5,249.8 L941.0,248.3 L941.5,248.9 L942.0,250.5 L942.4,251.7 L942.9,256.0 L943.4,256.8 L943.9,257.9 L944.3,260.4 L944.8,261.6 L945.3,263.8 L945.8,260.0 L946.2,258.8 L946.7,256.1 L947.2,255.0 L947.7,250.9 L948.1,248.0 L948.6,247.6 L949.1,246.1 L949.6,244.0 L950.0,241.7 L950.5,240.1 L951.0,238.6 L951.5,238.6 L951.9,237.9 L952.4,238.1 L952.8,239.4 L953.3,240.7 L953.7,240.3 L954.2,241.0 L954.6,238.8 L955.1,241.2 L955.5,239.6 L956.0,235.6 L956.5,236.2 L956.9,235.1 L957.4,237.1 L957.8,237.0 L958.3,234.5 L958.8,236.7 L959.2,234.5 L959.7,237.1 L960.2,233.7 L960.6,232.3 L961.1,234.6 L961.5,235.8 L962.0,234.2 L962.5,237.9 L962.9,238.6 L963.4,237.7 L963.9,240.2 L964.3,241.9 L964.8,241.6 L965.3,241.3 L965.7,240.6 L966.2,239.6 L966.7,237.1 L967.1,237.8 L967.6,235.5 L968.1,232.8 L968.5,232.9 L969.0,231.8 L969.5,230.2 L969.9,230.9 L970.4,231.1 L970.9,227.4 L971.3,226.4 L971.8,224.7 L972.3,225.9 L972.7,227.4 L973.2,225.5 L973.7,224.3 L974.1,225.1 L974.6,222.3 L975.1,223.7 L975.5,222.5 L976.0,221.2 L976.5,223.0 L976.9,222.4 L977.4,222.2 L977.9,224.4 L978.3,221.8 L978.8,224.3 L979.3,224.9 L979.7,227.1 L980.2,228.8 L980.7,230.2 L981.1,229.4 L981.6,232.2 L982.1,228.9 L982.6,228.8 L983.1,229.1 L983.6,229.8 L984.0,226.6 L984.5,225.4 L985.0,223.4 L985.5,223.9 L986.0,224.5 L986.5,221.4 L986.9,220.5 L987.4,219.3 L987.8,218.7 L988.3,214.3 L988.8,217.7 L989.2,220.3 L989.7,219.6 L990.2,218.6 L990.6,220.1 L991.1,216.6 L991.5,214.8 L992.0,213.5 L992.5,213.5 L992.9,212.9 L993.4,216.7 L993.9,218.8 L994.4,217.4 L994.8,219.6 L995.3,219.1 L995.8,221.9 L996.2,225.1 L996.7,226.9 L997.2,227.8 L997.7,227.3 L998.1,225.3 L998.6,219.4 L999.1,220.8 L999.5,216.8 L1000.0,214.0 L1000.5,213.3 L1001.0,211.1 L1001.5,208.0 L1001.9,207.9 L1002.4,208.2 L1002.9,207.0 L1003.3,204.7 L1003.8,204.5 L1004.3,204.9 L1004.8,208.0 L1005.2,205.1 L1005.7,203.3 L1006.2,202.0 L1006.6,201.5 L1007.1,202.3 L1007.6,201.0 L1008.0,201.2 L1008.5,201.9 L1009.0,199.7 L1009.4,200.8 L1009.9,200.3 L1010.4,198.9 L1010.8,199.1 L1011.3,196.4 L1011.8,194.1 L1012.2,191.7 L1012.7,192.8 L1013.2,193.6 L1013.6,192.4 L1014.1,189.6 L1014.6,190.0 L1015.0,187.1 L1015.5,186.0 L1016.0,182.2 L1016.4,182.0 L1016.9,179.7 L1017.4,180.5 L1017.8,178.3 L1018.3,175.9 L1018.8,177.1 L1019.2,177.2 L1019.7,180.9 L1020.2,181.0 L1020.7,182.7 L1021.1,185.2 L1021.6,186.6 L1022.1,188.5 L1022.6,192.8 L1023.0,190.1 L1023.5,193.3 L1024.0,197.9 L1024.5,196.8 L1025.0,201.7 L1025.5,203.1 L1026.0,206.7 L1026.5,206.7 L1027.0,209.1 L1027.5,207.7 L1027.9,207.3 L1028.4,206.2 L1028.8,206.3 L1029.3,204.2 L1029.7,200.0 L1030.2,197.0 L1030.6,196.5 L1031.1,195.6 L1031.5,191.7 L1032.0,189.5 L1032.5,189.0 L1032.9,189.6 L1033.4,192.9 L1033.8,197.3 L1034.3,196.6 L1034.8,195.7 L1035.2,199.1 L1035.7,199.7 L1036.2,201.3 L1036.6,200.0 L1037.1,196.5 L1037.6,193.6 L1038.1,190.6 L1038.5,191.5 L1039.0,189.8 L1039.5,188.6 L1040.0,188.6 L1040.4,190.5 L1040.9,188.8 L1041.4,188.0 L1041.9,188.7 L1042.5,189.5 L1043.0,189.0 L1043.5,190.7 L1044.0,192.5 L1044.5,190.2 L1044.9,189.4 L1045.4,189.0 L1045.9,189.9 L1046.3,188.7 L1046.8,186.4 L1047.3,185.2 L1047.7,185.4 L1048.2,183.0 L1048.7,182.5 L1049.1,181.9 L1049.6,181.0 L1050.1,182.4 L1050.6,185.1 L1051.1,185.7 L1051.5,186.9 L1052.0,188.2 L1052.5,190.5 L1053.0,188.4 L1053.5,187.9 L1054.0,184.6 L1054.5,186.9 L1055.0,183.4 L1055.5,180.8 L1056.0,178.3 L1056.5,177.2 L1057.0,176.7 L1057.5,176.3 L1058.0,177.2 L1058.5,179.1 L1059.0,179.5 L1059.5,180.5 L1060.0,181.0 L1060.5,180.4 L1060.9,176.6 L1061.4,173.2 L1061.8,171.2 L1062.3,170.8 L1062.7,167.7 L1063.2,164.6 L1063.6,163.1 L1064.1,161.3 L1064.5,158.1 L1065.0,155.3 L1065.5,155.7 L1065.9,155.5 L1066.4,155.1 L1066.8,155.2 L1067.3,154.0 L1067.8,152.3 L1068.2,157.2 L1068.7,154.8 L1069.2,157.4 L1069.6,160.6 L1070.1,163.0 L1070.6,165.0 L1071.1,169.8 L1071.5,172.0 L1072.0,173.2 L1072.5,170.5 L1072.9,170.9 L1073.3,170.8 L1073.8,169.2 L1074.2,169.3 L1074.7,167.6 L1075.2,167.1 L1075.6,167.5 L1076.1,166.8 L1076.5,163.9 L1077.0,163.2 L1077.4,158.6 L1077.9,163.1 L1078.4,166.8 L1078.9,166.7 L1079.5,170.0 L1080.0,168.4 L1080.5,170.0 L1081.0,171.3 L1081.5,169.8 L1082.0,169.8 L1082.5,164.9 L1083.0,166.1 L1083.5,167.3 L1084.0,168.8 L1084.4,168.3 L1084.9,169.6 L1085.4,173.3 L1085.9,175.2 L1086.4,175.7 L1086.8,178.0 L1087.3,178.4 L1087.8,179.3 L1088.3,184.5 L1088.7,183.1 L1089.2,189.1 L1089.6,192.3 L1090.1,191.9 L1090.5,196.7 L1091.0,198.9 L1091.5,194.9 L1091.9,192.4 L1092.3,189.7 L1092.8,187.5 L1093.2,187.3 L1093.7,183.9 L1094.2,192.9 L1094.7,195.3 L1095.2,200.6 L1095.7,205.6 L1096.1,208.6 L1096.6,215.8 L1097.1,217.9 L1097.6,222.7 L1098.1,217.5 L1098.6,214.3 L1099.0,210.0 L1099.5,205.3 L1100.0,200.1 L1100.6,205.0 L1101.1,212.9 L1101.7,217.1 L1102.2,212.8 L1102.6,211.1 L1103.1,204.4 L1103.6,200.9 L1104.0,195.3 L1104.5,193.7 L1105.0,191.7 L1105.4,192.9 L1105.9,189.7 L1106.4,188.7 L1106.8,183.8 L1107.3,186.5 L1107.8,185.2 L1108.2,182.9 L1108.7,182.6 L1109.2,181.9 L1109.6,185.7 L1110.1,185.7 L1110.6,185.7 L1111.1,186.3 L1111.5,184.9 L1112.0,186.7 L1112.5,184.0 L1112.9,180.6 L1113.4,181.9 L1113.8,179.7 L1114.3,177.7 L1114.8,177.9 L1115.2,175.8 L1115.7,175.5 L1116.2,177.6 L1116.7,176.9 L1117.1,176.1 L1117.6,170.9 L1118.1,173.1 L1118.6,173.2 L1119.1,170.9 L1119.6,170.6 L1120.0,169.0 L1120.5,167.1 L1121.0,167.3 L1121.5,164.8 L1121.9,166.4 L1122.4,167.4 L1122.8,165.1 L1123.3,165.8 L1123.7,162.0 L1124.2,162.3 L1124.6,159.6 L1125.1,157.6 L1125.5,159.6 L1126.0,157.9 L1126.5,156.3 L1126.9,156.9 L1127.4,157.1 L1127.8,158.3 L1128.3,155.5 L1128.7,154.1 L1129.2,153.0 L1129.6,151.1 L1130.1,151.3 L1130.5,150.4 L1131.0,148.4 L1131.5,148.8 L1132.0,148.6 L1132.4,146.2 L1132.9,142.9 L1133.4,142.6 L1133.8,143.6 L1134.3,143.2 L1134.8,142.6 L1135.4,147.8 L1135.9,149.9 L1136.5,150.3 L1137.0,150.7 L1137.4,147.6 L1137.9,147.4 L1138.4,144.4 L1138.8,143.5 L1139.3,141.2 L1139.8,141.0 L1140.2,135.6 L1140.7,133.5 L1141.2,137.1 L1141.6,133.2 L1142.1,129.1 L1142.5,125.8 L1143.0,124.1 L1143.5,125.0 L1143.9,121.5 L1144.4,123.3 L1144.8,122.4 L1145.3,120.7 L1145.8,120.8 L1146.3,121.8 L1146.7,122.1 L1147.2,124.1 L1147.7,123.9 L1147.7,397.5 L10.5,397.5 Z" fill="url(#g)"/>
<rect x="10" y="397" width="1247.2" height="1.5" fill="#8c8c8c"/>
<path d="M10.5,398.0 L11.0,398.2 L11.4,398.7 L11.9,397.8 L12.3,398.8 L12.8,398.3 L13.3,398.5 L13.7,399.4 L14.2,400.1 L14.6,400.6 L15.1,400.6 L15.6,400.5 L16.0,400.3 L16.5,401.2 L16.9,401.2 L17.4,401.6 L17.9,401.5 L18.3,400.4 L18.8,399.9 L19.3,400.0 L19.8,399.9 L20.2,398.7 L20.7,398.5 L21.2,397.6 L21.7,395.8 L22.1,396.6 L22.6,396.2 L23.1,396.0 L23.6,396.7 L24.1,397.0 L24.5,396.7 L25.0,396.4 L25.5,396.9 L26.0,396.5 L26.5,396.4 L27.0,396.4 L27.5,396.2 L28.0,397.0 L28.4,398.1 L28.9,398.4 L29.4,398.7 L29.9,398.6 L30.4,399.5 L30.9,399.5 L31.3,399.1 L31.8,400.2 L32.2,399.9 L32.7,400.7 L33.2,400.1 L33.6,400.7 L34.1,401.1 L34.5,401.5 L35.0,401.3 L35.5,400.4 L36.0,399.8 L36.4,399.6 L36.9,399.1 L37.4,398.4 L37.9,398.2 L38.4,398.9 L38.8,397.9 L39.3,398.4 L39.8,397.9 L40.3,398.4 L40.7,398.1 L41.2,397.9 L41.7,396.5 L42.2,396.2 L42.6,396.3 L43.1,396.3 L43.5,396.4 L44.0,395.8 L44.4,396.1 L44.9,395.7 L45.4,395.4 L45.8,395.7 L46.3,396.2 L46.7,395.9 L47.2,395.4 L47.7,395.4 L48.1,395.6 L48.6,394.7 L49.0,394.8 L49.5,394.8 L49.9,394.9 L50.4,395.3 L50.9,395.3 L51.3,395.3 L51.8,395.7 L52.3,395.5 L52.7,396.0 L53.2,396.0 L53.7,394.7 L54.1,395.5 L54.6,395.2 L55.1,394.8 L55.5,395.2 L56.0,395.8 L56.5,397.3 L56.9,396.4 L57.4,396.7 L57.9,397.2 L58.3,397.5 L58.8,396.9 L59.3,397.4 L59.7,398.0 L60.2,398.1 L60.7,398.7 L61.2,398.4 L61.6,398.5 L62.1,399.4 L62.6,399.4 L63.0,399.4 L63.5,399.3 L64.0,399.0 L64.5,398.4 L64.9,398.5 L65.4,398.0 L65.9,398.6 L66.4,397.7 L66.8,397.3 L67.3,396.3 L67.8,395.6 L68.3,395.3 L68.7,395.0 L69.2,395.4 L69.7,395.6 L70.1,396.0 L70.6,395.9 L71.1,396.0 L71.5,397.1 L72.0,396.6 L72.5,396.5 L72.9,397.1 L73.4,398.4 L73.9,398.0 L74.3,397.5 L74.8,398.1 L75.3,399.5 L75.8,400.9 L76.4,403.3 L76.9,404.3 L77.4,405.1 L77.9,404.1 L78.4,403.9 L78.8,404.3 L79.3,403.8 L79.8,403.8 L80.3,403.4 L80.7,402.2 L81.2,402.5 L81.7,401.7 L82.2,403.0 L82.6,402.8 L83.1,402.9 L83.6,403.1 L84.0,403.5 L84.5,403.5 L85.0,402.6 L85.5,402.3 L85.9,401.7 L86.4,401.6 L86.9,402.1 L87.3,402.3 L87.8,402.7 L88.3,402.1 L88.8,401.7 L89.3,401.1 L89.8,400.9 L90.2,400.1 L90.7,400.3 L91.2,400.8 L91.7,400.7 L92.2,399.1 L92.7,399.1 L93.1,398.9 L93.6,398.0 L94.0,398.0 L94.5,397.6 L94.9,395.7 L95.4,395.6 L95.8,396.0 L96.3,394.9 L96.7,394.4 L97.2,394.4 L97.6,393.1 L98.1,393.3 L98.5,392.8 L99.0,393.4 L99.5,394.7 L100.0,394.4 L100.5,395.1 L101.1,395.5 L101.6,395.8 L102.1,396.7 L102.6,396.8 L103.1,395.6 L103.6,395.3 L104.1,394.8 L104.5,395.3 L105.0,394.0 L105.5,393.9 L106.0,394.1 L106.5,394.3 L107.0,394.6 L107.4,394.4 L107.9,394.7 L108.4,394.2 L108.9,396.2 L109.4,395.7 L109.9,395.4 L110.3,396.7 L110.8,397.0 L111.3,396.6 L111.8,396.1 L112.3,395.2 L112.8,395.6 L113.3,395.0 L113.8,394.5 L114.3,396.2 L114.8,395.8 L115.3,396.3 L115.8,397.5 L116.3,398.5 L116.8,399.2 L117.3,400.5 L117.8,402.1 L118.3,403.6 L118.8,403.2 L119.2,403.1 L119.7,402.3 L120.2,402.8 L120.7,402.9 L121.1,403.3 L121.6,403.3 L122.1,403.5 L122.6,403.5 L123.0,402.5 L123.5,402.7 L124.0,403.3 L124.5,403.0 L124.9,404.5 L125.4,403.0 L125.9,403.4 L126.4,403.6 L126.8,403.2 L127.3,404.0 L127.8,404.3 L128.3,403.9 L128.8,403.7 L129.3,403.4 L129.8,401.7 L130.2,401.8 L130.7,401.9 L131.2,400.9 L131.7,401.1 L132.2,399.2 L132.7,400.0 L133.1,399.7 L133.6,400.8 L134.0,400.2 L134.5,399.6 L134.9,399.3 L135.4,399.2 L135.8,398.2 L136.3,397.7 L136.7,398.6 L137.2,396.8 L137.6,396.9 L138.1,396.3 L138.5,397.0 L139.0,397.2 L139.5,397.3 L139.9,397.6 L140.4,397.8 L140.9,399.0 L141.3,398.5 L141.8,398.6 L142.2,397.3 L142.7,397.3 L143.2,397.4 L143.6,397.8 L144.1,396.8 L144.6,396.1 L145.0,396.9 L145.5,397.0 L145.9,396.5 L146.4,395.9 L146.9,396.9 L147.3,395.9 L147.8,396.6 L148.3,397.2 L148.7,398.2 L149.2,399.0 L149.7,400.2 L150.2,399.6 L150.6,399.6 L151.1,400.3 L151.6,399.4 L152.1,400.5 L152.5,401.6 L153.0,400.6 L153.5,401.4 L153.9,400.8 L154.4,401.7 L154.9,401.1 L155.3,400.4 L155.8,401.6 L156.3,402.4 L156.7,401.6 L157.2,401.3 L157.7,401.0 L158.1,401.0 L158.6,400.1 L159.1,399.0 L159.5,399.4 L160.0,399.5 L160.5,399.0 L160.9,399.4 L161.4,400.3 L161.9,400.4 L162.3,400.4 L162.8,400.2 L163.3,399.7 L163.7,400.5 L164.2,401.3 L164.7,400.9 L165.1,401.6 L165.6,401.4 L166.1,401.9 L166.5,402.1 L167.0,402.3 L167.5,400.8 L167.9,399.9 L168.4,399.8 L168.8,399.1 L169.3,398.6 L169.7,398.0 L170.2,397.5 L170.6,397.1 L171.1,396.6 L171.5,396.8 L172.0,396.0 L172.5,396.7 L172.9,396.2 L173.4,395.3 L173.8,395.0 L174.3,395.7 L174.8,395.0 L175.2,395.1 L175.7,394.0 L176.1,395.3 L176.6,395.2 L177.1,395.0 L177.5,396.4 L178.0,395.9 L178.5,395.6 L178.9,396.2 L179.4,395.6 L179.8,394.9 L180.3,394.5 L180.8,393.5 L181.2,393.3 L181.7,394.0 L182.1,393.1 L182.6,394.1 L183.1,393.7 L183.5,393.9 L184.0,394.8 L184.4,395.2 L184.9,395.5 L185.3,395.5 L185.8,395.1 L186.2,395.8 L186.7,395.7 L187.1,395.0 L187.6,395.5 L188.0,394.7 L188.5,395.3 L188.9,395.5 L189.4,395.4 L189.8,395.1 L190.3,395.5 L190.7,395.1 L191.2,396.3 L191.6,396.5 L192.1,395.8 L192.5,396.7 L193.0,395.3 L193.4,395.1 L193.9,394.6 L194.3,394.7 L194.8,394.7 L195.3,395.2 L195.7,395.2 L196.2,395.6 L196.6,394.6 L197.1,395.3 L197.6,395.4 L198.0,396.2 L198.5,395.8 L198.9,395.3 L199.4,394.9 L199.9,395.5 L200.3,395.6 L200.8,394.6 L201.2,394.3 L201.7,394.5 L202.2,394.7 L202.7,394.3 L203.1,395.3 L203.6,395.0 L204.1,394.7 L204.6,395.1 L205.0,396.8 L205.5,397.3 L206.0,397.7 L206.5,397.2 L207.0,397.8 L207.5,397.4 L208.0,396.7 L208.4,396.7 L208.9,397.0 L209.4,395.5 L209.9,395.3 L210.4,394.3 L210.9,395.1 L211.3,395.1 L211.8,394.4 L212.3,394.5 L212.8,394.4 L213.2,394.5 L213.7,394.8 L214.2,394.3 L214.6,393.8 L215.1,393.6 L215.6,394.1 L216.1,393.4 L216.5,392.7 L217.0,391.8 L217.5,391.7 L218.0,391.1 L218.5,391.7 L218.9,391.3 L219.4,390.4 L219.9,390.6 L220.4,390.6 L220.9,392.3 L221.3,395.3 L221.8,398.1 L222.3,399.0 L222.7,398.1 L223.2,398.6 L223.7,398.1 L224.1,399.2 L224.6,398.7 L225.1,399.3 L225.5,397.8 L226.0,398.1 L226.5,398.4 L226.9,398.2 L227.4,398.1 L227.9,398.2 L228.3,397.9 L228.8,397.9 L229.2,397.4 L229.7,397.3 L230.1,397.3 L230.6,396.6 L231.0,397.1 L231.5,395.2 L231.9,395.5 L232.4,395.5 L232.8,395.0 L233.3,395.4 L233.7,395.4 L234.2,394.5 L234.6,395.3 L235.1,394.9 L235.5,394.9 L236.0,395.0 L236.5,394.9 L236.9,394.0 L237.4,394.7 L237.9,395.4 L238.4,395.6 L238.8,395.6 L239.3,395.3 L239.8,395.7 L240.2,394.5 L240.7,395.4 L241.2,396.4 L241.6,395.1 L242.1,395.0 L242.6,394.6 L243.1,394.4 L243.5,394.4 L244.0,395.2 L244.5,394.5 L244.9,395.3 L245.4,394.8 L245.8,394.9 L246.3,394.4 L246.7,394.1 L247.2,394.6 L247.6,394.8 L248.1,394.6 L248.5,394.7 L249.0,394.1 L249.4,394.0 L249.9,395.5 L250.3,395.3 L250.8,394.4 L251.2,395.8 L251.7,395.6 L252.2,394.7 L252.6,394.7 L253.1,394.1 L253.5,393.6 L254.0,393.8 L254.4,393.3 L254.9,393.7 L255.4,393.1 L255.8,392.9 L256.3,393.9 L256.7,393.1 L257.2,391.2 L257.7,392.0 L258.1,391.3 L258.6,390.1 L259.0,391.0 L259.5,390.8 L259.9,390.6 L260.4,391.1 L260.9,390.9 L261.3,390.3 L261.8,390.2 L262.3,389.8 L262.8,389.3 L263.2,390.4 L263.7,389.7 L264.2,389.8 L264.6,390.8 L265.1,389.6 L265.6,390.3 L266.1,390.8 L266.5,389.9 L267.0,391.2 L267.5,390.5 L267.9,390.1 L268.4,390.8 L268.8,389.7 L269.3,390.2 L269.7,390.8 L270.2,390.6 L270.6,390.1 L271.1,391.1 L271.6,390.5 L272.0,389.7 L272.5,390.2 L272.9,390.2 L273.4,391.2 L273.8,391.4 L274.3,391.2 L274.8,390.6 L275.2,390.7 L275.7,391.1 L276.1,390.6 L276.6,390.7 L277.0,390.2 L277.5,389.6 L278.0,389.6 L278.4,389.9 L278.9,388.8 L279.3,389.7 L279.8,389.5 L280.3,389.1 L280.7,390.0 L281.2,389.5 L281.6,389.4 L282.1,389.0 L282.5,388.7 L283.0,388.7 L283.5,388.3 L283.9,388.5 L284.4,387.8 L284.9,387.9 L285.4,388.4 L285.8,388.3 L286.3,388.5 L286.8,388.3 L287.2,387.6 L287.7,388.0 L288.2,388.6 L288.6,388.4 L289.1,386.7 L289.6,388.0 L290.1,387.2 L290.5,388.0 L291.0,387.9 L291.5,387.9 L291.9,388.3 L292.4,387.6 L292.8,388.3 L293.3,387.5 L293.7,388.0 L294.2,387.8 L294.6,388.1 L295.1,388.7 L295.5,389.0 L296.0,389.2 L296.4,389.3 L296.9,388.4 L297.3,388.8 L297.8,388.6 L298.2,388.3 L298.7,388.0 L299.2,387.7 L299.6,387.0 L300.1,387.3 L300.6,386.6 L301.0,387.6 L301.5,387.6 L302.0,386.4 L302.4,387.1 L302.9,386.4 L303.4,386.6 L303.9,386.6 L304.3,386.6 L304.8,387.4 L305.3,385.8 L305.7,386.6 L306.2,385.8 L306.7,385.7 L307.1,385.0 L307.6,384.2 L308.1,383.3 L308.5,383.8 L309.0,383.4 L309.5,383.2 L309.9,382.5 L310.4,382.2 L310.8,381.4 L311.3,381.6 L311.7,382.0 L312.2,381.8 L312.6,381.9 L313.1,382.2 L313.5,381.8 L314.0,381.0 L314.5,380.8 L314.9,380.8 L315.4,380.8 L315.9,381.1 L316.3,381.5 L316.8,381.7 L317.3,381.2 L317.7,382.6 L318.2,382.7 L318.7,383.0 L319.1,382.0 L319.6,382.0 L320.1,380.5 L320.5,380.2 L321.0,380.0 L321.5,380.7 L321.9,380.4 L322.4,380.0 L322.9,380.1 L323.3,379.2 L323.8,379.2 L324.3,378.8 L324.7,377.8 L325.2,379.3 L325.7,380.4 L326.1,378.5 L326.6,378.6 L327.1,378.9 L327.5,377.9 L328.0,376.7 L328.5,377.0 L328.9,377.0 L329.4,377.1 L329.9,376.6 L330.3,376.5 L330.8,376.1 L331.3,375.2 L331.7,375.6 L332.2,374.2 L332.7,374.6 L333.1,373.9 L333.6,373.0 L334.1,372.9 L334.5,372.7 L335.0,372.1 L335.5,372.4 L335.9,374.0 L336.4,376.7 L336.9,377.8 L337.3,378.8 L337.8,379.3 L338.2,381.4 L338.7,383.1 L339.2,381.1 L339.6,380.9 L340.1,380.8 L340.6,380.7 L341.1,379.4 L341.6,379.6 L342.0,377.7 L342.5,376.5 L343.0,377.0 L343.5,376.9 L344.0,375.9 L344.5,376.5 L344.9,375.7 L345.4,375.8 L345.9,375.0 L346.4,373.7 L346.9,374.0 L347.4,372.3 L347.9,373.3 L348.3,374.7 L348.8,375.4 L349.3,375.8 L349.8,375.1 L350.2,375.9 L350.7,376.4 L351.2,377.8 L351.7,377.9 L352.1,378.2 L352.6,378.4 L353.1,377.9 L353.6,378.7 L354.1,379.3 L354.6,379.5 L355.1,378.9 L355.5,377.5 L356.0,376.6 L356.5,376.8 L357.0,376.4 L357.5,376.4 L358.0,376.1 L358.5,376.4 L358.9,376.4 L359.4,376.9 L359.8,376.5 L360.3,376.6 L360.7,375.9 L361.2,375.4 L361.6,375.8 L362.1,375.1 L362.5,375.7 L363.0,374.3 L363.5,374.0 L364.0,374.6 L364.5,373.8 L365.0,374.0 L365.5,372.6 L366.0,372.8 L366.5,373.8 L366.9,373.6 L367.4,374.3 L367.9,373.8 L368.3,373.7 L368.8,373.9 L369.2,374.0 L369.6,374.1 L370.1,374.0 L370.6,374.0 L371.0,373.4 L371.5,373.3 L371.9,372.9 L372.4,373.5 L372.8,373.0 L373.3,372.2 L373.8,372.0 L374.2,371.3 L374.7,371.2 L375.2,371.5 L375.6,370.3 L376.1,370.4 L376.5,367.8 L377.0,367.9 L377.5,368.1 L377.9,367.8 L378.4,367.4 L378.8,368.1 L379.3,368.0 L379.7,368.8 L380.2,368.7 L380.6,369.8 L381.1,369.4 L381.5,368.6 L382.0,368.8 L382.5,367.5 L382.9,366.8 L383.4,366.3 L383.9,365.6 L384.3,366.1 L384.8,366.2 L385.3,365.9 L385.7,365.1 L386.2,365.0 L386.7,365.4 L387.1,364.3 L387.6,362.3 L388.1,362.2 L388.5,362.2 L389.0,362.7 L389.5,362.7 L390.0,362.2 L390.5,363.3 L391.0,363.2 L391.5,363.9 L392.0,362.9 L392.5,363.4 L393.0,363.2 L393.5,363.2 L394.0,362.4 L394.4,361.8 L394.9,361.9 L395.4,362.1 L395.9,360.8 L396.4,360.7 L396.8,360.6 L397.3,361.4 L397.8,360.8 L398.3,361.0 L398.7,360.9 L399.2,360.5 L399.7,361.6 L400.2,359.9 L400.6,360.4 L401.1,360.1 L401.6,361.2 L402.1,362.1 L402.5,361.3 L403.0,362.5 L403.5,362.5 L404.0,361.9 L404.4,361.5 L404.9,362.1 L405.4,360.6 L405.9,360.2 L406.4,359.6 L406.9,359.2 L407.3,360.2 L407.8,360.1 L408.3,360.7 L408.8,360.9 L409.3,361.8 L409.8,361.2 L410.2,361.6 L410.7,363.6 L411.2,363.9 L411.7,363.6 L412.2,364.8 L412.7,365.9 L413.1,365.1 L413.6,366.1 L414.1,365.8 L414.6,365.9 L415.0,367.4 L415.5,367.5 L416.0,368.5 L416.5,365.7 L417.1,366.6 L417.6,364.9 L418.2,364.5 L418.7,365.1 L419.2,365.6 L419.7,367.0 L420.1,367.1 L420.6,368.0 L421.1,368.9 L421.6,370.2 L422.0,371.7 L422.5,372.1 L423.0,373.1 L423.5,370.9 L424.1,369.7 L424.6,368.8 L425.2,368.9 L425.7,367.2 L426.2,368.5 L426.6,370.8 L427.1,371.4 L427.6,372.6 L428.1,374.1 L428.5,375.5 L429.0,376.1 L429.4,378.1 L429.9,379.4 L430.4,379.8 L430.8,381.5 L431.2,381.6 L431.7,383.0 L432.2,384.0 L432.6,384.3 L433.5,382.0 L434.0,382.2 L434.5,381.9 L435.0,381.4 L435.5,381.5 L436.0,380.9 L436.5,380.4 L437.0,381.2 L437.5,379.6 L438.0,380.2 L438.4,378.9 L438.9,378.6 L439.4,379.1 L439.9,379.9 L440.4,379.1 L440.9,378.4 L441.3,378.3 L441.8,378.4 L442.3,377.6 L442.7,376.4 L443.2,376.7 L443.7,375.6 L444.1,376.1 L444.6,375.5 L445.1,373.2 L445.5,375.4 L446.0,375.2 L446.5,375.5 L446.9,375.0 L447.4,374.7 L447.9,373.8 L448.3,373.8 L448.8,372.9 L449.2,373.5 L449.7,373.2 L450.1,372.1 L450.6,371.6 L451.0,371.2 L451.5,370.2 L451.9,369.9 L452.4,370.0 L452.8,370.8 L453.3,370.5 L453.7,369.6 L454.2,369.5 L454.6,369.4 L455.1,369.7 L455.5,369.8 L456.0,369.3 L456.5,369.9 L456.9,370.1 L457.4,370.0 L457.8,369.5 L458.3,369.8 L458.8,370.0 L459.2,368.8 L459.7,369.5 L460.2,369.0 L460.6,368.7 L461.1,368.6 L461.5,368.4 L462.0,368.4 L462.5,367.5 L463.0,366.5 L463.5,367.2 L464.0,366.2 L464.5,366.3 L464.9,365.9 L465.4,366.9 L465.9,365.9 L466.4,365.8 L466.9,365.3 L467.4,364.4 L467.9,364.8 L468.3,365.8 L468.8,364.9 L469.3,365.6 L469.8,365.9 L470.2,366.9 L470.7,368.8 L471.2,369.9 L471.7,369.7 L472.1,370.6 L472.6,372.3 L473.1,372.1 L473.5,371.9 L474.0,372.9 L474.5,373.1 L475.0,373.8 L475.4,373.7 L475.9,373.1 L476.4,373.7 L476.9,374.5 L477.3,374.8 L477.8,375.3 L478.3,373.1 L478.7,373.8 L479.2,372.5 L479.7,372.0 L480.1,370.2 L480.6,370.4 L481.1,369.6 L481.5,368.1 L482.0,368.4 L482.5,368.6 L482.9,368.6 L483.4,369.1 L483.8,368.9 L484.3,367.8 L484.7,368.0 L485.2,366.6 L485.6,367.5 L486.1,366.0 L486.5,366.3 L487.0,364.7 L487.5,364.3 L487.9,364.3 L488.4,363.7 L488.9,365.1 L489.3,364.7 L489.8,364.4 L490.3,363.8 L490.7,363.3 L491.2,363.6 L491.7,363.7 L492.1,364.0 L492.6,364.2 L493.1,364.8 L493.5,365.2 L494.0,365.4 L494.5,364.8 L495.0,365.0 L495.4,365.2 L495.9,366.9 L496.4,365.6 L496.9,366.1 L497.3,366.5 L497.8,365.7 L498.3,365.8 L498.7,364.9 L499.2,365.4 L499.7,366.6 L500.2,365.8 L500.6,366.8 L501.1,366.7 L501.6,365.5 L502.1,364.7 L502.5,364.5 L503.0,364.4 L503.5,363.9 L503.9,364.1 L504.4,364.3 L504.8,363.6 L505.3,363.2 L505.7,361.6 L506.2,362.5 L506.6,362.7 L507.1,362.0 L507.5,360.8 L508.0,362.1 L508.5,362.3 L508.9,362.2 L509.4,364.3 L509.8,364.0 L510.3,364.7 L510.8,365.2 L511.2,365.3 L511.7,365.8 L512.2,365.7 L512.6,366.0 L513.1,365.0 L513.5,364.5 L514.0,365.8 L514.5,365.0 L514.9,363.8 L515.4,363.3 L515.9,363.4 L516.4,363.1 L516.8,363.1 L517.3,362.2 L517.8,361.3 L518.2,361.6 L518.7,361.5 L519.2,360.0 L519.6,360.7 L520.1,359.8 L520.6,359.7 L521.1,359.3 L521.5,357.8 L522.0,357.9 L522.5,357.9 L522.9,358.4 L523.4,357.2 L523.9,356.5 L524.3,356.3 L524.8,356.0 L525.3,355.8 L525.7,355.4 L526.2,355.7 L526.7,356.5 L527.2,355.2 L527.6,356.0 L528.1,356.5 L528.6,354.9 L529.0,356.0 L529.5,355.2 L530.0,355.6 L530.4,354.9 L530.9,354.7 L531.4,353.3 L531.8,354.0 L532.3,354.0 L532.7,354.3 L533.2,353.3 L533.6,353.9 L534.1,353.4 L534.6,352.4 L535.0,352.4 L535.5,352.0 L535.9,352.5 L536.4,351.8 L536.9,350.6 L537.3,351.1 L537.8,351.5 L538.2,349.7 L538.7,350.1 L539.1,348.5 L539.6,349.1 L540.1,347.7 L540.5,349.6 L541.0,348.0 L541.5,348.5 L541.9,349.8 L542.4,349.9 L542.9,348.6 L543.3,347.5 L543.8,348.1 L544.3,347.4 L544.7,348.2 L545.2,347.5 L545.7,348.2 L546.1,348.2 L546.6,347.6 L547.1,348.2 L547.5,348.0 L548.0,348.2 L548.5,347.1 L548.9,344.5 L549.4,344.5 L549.8,343.8 L550.3,342.5 L550.8,341.9 L551.2,342.1 L551.7,341.9 L552.1,341.1 L552.6,341.1 L553.0,340.1 L553.5,340.6 L554.0,343.3 L554.5,345.7 L555.0,346.1 L555.5,349.1 L556.0,353.0 L556.5,354.1 L557.0,354.7 L557.5,355.8 L558.0,358.7 L558.5,360.2 L559.0,361.2 L559.5,364.3 L560.0,366.6 L560.5,366.5 L561.0,369.2 L561.5,371.0 L562.0,372.9 L562.5,374.1 L563.0,375.5 L563.5,373.7 L563.9,371.8 L564.4,369.6 L564.8,367.5 L565.2,366.6 L565.7,365.3 L566.2,364.2 L566.6,361.9 L567.1,361.7 L567.6,360.6 L568.1,359.2 L568.5,357.0 L569.0,354.7 L569.5,354.4 L570.0,354.3 L570.5,353.1 L571.0,352.2 L571.5,350.9 L572.0,351.3 L572.5,351.3 L573.0,350.5 L573.5,349.6 L574.0,348.6 L574.4,348.7 L574.9,348.4 L575.4,347.9 L575.9,346.9 L576.4,347.4 L576.8,346.4 L577.3,345.7 L577.8,345.4 L578.3,346.0 L578.7,345.7 L579.2,343.6 L579.7,344.1 L580.2,343.9 L580.6,343.7 L581.1,342.5 L581.6,342.5 L582.1,342.3 L582.5,342.5 L583.0,344.4 L583.5,343.6 L584.0,342.1 L584.5,340.9 L585.0,342.0 L585.5,340.6 L586.0,338.9 L586.5,337.5 L587.0,337.0 L587.5,338.4 L588.0,337.3 L588.5,338.3 L589.0,339.2 L589.5,340.0 L590.0,338.6 L590.5,337.9 L590.9,336.1 L591.4,334.2 L591.8,333.4 L592.3,333.0 L592.7,333.1 L593.2,333.2 L593.6,331.2 L594.1,329.4 L594.5,327.9 L595.0,324.7 L595.5,326.1 L595.9,326.5 L596.4,328.7 L596.8,327.7 L597.3,329.1 L597.8,329.4 L598.2,329.8 L598.7,330.3 L599.1,331.2 L599.6,331.6 L600.1,331.8 L600.6,329.0 L601.1,329.0 L601.6,327.9 L602.0,326.2 L602.5,325.3 L603.0,323.7 L603.5,320.3 L604.0,317.7 L604.5,318.1 L605.0,317.3 L605.5,316.2 L606.0,315.8 L606.5,316.8 L607.0,314.4 L607.5,314.6 L608.0,312.8 L608.5,310.6 L609.0,308.6 L609.4,306.9 L609.9,306.8 L610.4,305.2 L610.9,302.7 L611.4,304.6 L611.8,307.9 L612.2,310.3 L612.7,313.6 L613.1,316.8 L613.6,318.6 L614.1,319.2 L614.6,321.1 L615.1,322.5 L615.5,324.7 L616.0,322.8 L616.5,325.6 L617.0,326.0 L617.5,325.0 L617.9,324.1 L618.4,322.2 L618.8,321.7 L619.3,320.1 L619.7,319.9 L620.2,317.2 L620.6,315.8 L621.1,313.7 L621.5,313.9 L622.0,312.4 L622.5,312.8 L622.9,314.1 L623.4,314.3 L623.8,314.4 L624.3,315.5 L624.8,315.2 L625.2,315.9 L625.7,315.9 L626.2,317.1 L626.6,319.6 L627.1,318.1 L627.5,319.7 L628.0,320.4 L628.5,318.1 L628.9,315.3 L629.4,313.4 L629.9,311.9 L630.4,309.5 L630.8,310.9 L631.3,309.0 L631.8,309.9 L632.2,308.4 L632.7,308.3 L633.2,309.0 L633.6,309.2 L634.1,309.2 L634.6,311.3 L635.0,309.5 L635.5,309.5 L636.0,309.1 L636.4,308.8 L636.9,308.6 L637.4,308.1 L637.8,306.5 L638.3,306.8 L638.8,305.6 L639.2,306.4 L639.7,308.9 L640.2,307.9 L640.7,306.0 L641.2,306.7 L641.6,304.9 L642.1,303.6 L642.6,303.9 L643.1,303.8 L643.6,304.6 L644.0,304.5 L644.5,303.3 L645.0,302.4 L645.5,303.1 L646.0,303.1 L646.5,303.4 L647.0,306.3 L647.5,307.0 L648.0,308.6 L648.5,309.0 L649.0,312.4 L649.5,309.4 L650.0,308.3 L650.5,308.7 L651.0,306.8 L651.5,304.9 L652.0,303.8 L652.5,300.1 L653.0,301.0 L653.5,302.2 L654.0,303.4 L654.5,300.1 L655.0,299.3 L655.4,299.4 L655.9,296.4 L656.4,297.3 L656.9,295.5 L657.4,294.4 L657.9,295.6 L658.3,297.5 L658.8,298.6 L659.3,299.1 L659.8,299.9 L660.2,300.0 L660.7,300.3 L661.2,302.2 L661.7,303.2 L662.1,303.9 L662.6,304.9 L663.1,305.9 L663.5,306.2 L664.0,307.5 L664.4,306.8 L664.9,306.1 L665.3,307.4 L665.8,306.2 L666.3,305.5 L666.7,304.5 L667.2,304.6 L667.7,304.6 L668.2,303.7 L668.6,303.8 L669.1,303.3 L669.6,302.1 L670.1,301.4 L670.5,302.3 L671.0,299.6 L671.5,299.2 L672.0,298.8 L672.5,297.5 L673.0,294.8 L673.5,292.5 L674.0,291.4 L674.5,289.4 L675.0,286.6 L675.5,287.8 L676.0,287.9 L676.5,288.0 L677.0,286.5 L677.5,287.5 L677.9,287.8 L678.4,288.3 L678.9,286.0 L679.4,284.8 L679.9,284.6 L680.4,285.6 L680.9,287.5 L681.3,289.3 L681.8,291.3 L682.2,292.4 L682.7,292.7 L683.1,293.3 L683.6,294.7 L684.0,295.8 L684.5,297.2 L685.0,297.5 L685.5,296.7 L685.9,297.7 L686.4,296.2 L686.9,296.2 L687.4,294.5 L687.9,292.4 L688.4,293.6 L688.8,292.3 L689.3,291.0 L689.8,289.1 L690.2,289.1 L690.7,288.6 L691.1,288.4 L691.6,287.7 L692.0,286.3 L692.5,285.9 L692.9,285.0 L693.4,284.8 L693.9,281.6 L694.3,280.9 L694.8,283.0 L695.2,280.0 L695.6,280.8 L696.1,278.9 L696.5,279.2 L697.0,279.2 L697.5,278.7 L697.9,277.1 L698.4,276.1 L698.9,278.4 L699.3,276.3 L699.8,276.0 L700.2,275.5 L700.7,273.9 L701.2,273.2 L701.6,272.2 L702.1,273.5 L702.5,271.6 L703.0,270.8 L703.5,268.1 L703.9,266.2 L704.4,268.1 L704.9,267.1 L705.3,268.7 L705.8,267.4 L706.3,268.7 L706.7,269.9 L707.2,269.5 L707.7,271.6 L708.1,271.8 L708.6,270.8 L709.1,270.1 L709.5,270.7 L710.0,270.6 L710.5,272.1 L711.0,268.5 L711.4,267.9 L711.9,267.5 L712.4,267.9 L712.8,269.4 L713.3,266.1 L713.8,264.4 L714.2,264.4 L714.7,265.8 L715.2,264.6 L715.6,265.5 L716.1,261.8 L716.6,262.2 L717.1,261.1 L717.5,260.2 L718.0,260.0 L718.5,261.9 L719.0,263.2 L719.5,266.1 L720.0,264.6 L720.5,265.0 L721.0,265.5 L721.5,265.6 L722.0,265.0 L722.5,268.1 L723.0,267.9 L723.4,269.4 L723.9,269.6 L724.4,269.9 L724.9,274.9 L725.3,276.4 L725.8,278.7 L726.3,278.0 L726.8,278.0 L727.2,277.3 L727.7,277.1 L728.1,272.8 L728.6,273.7 L729.0,272.1 L729.5,270.5 L730.0,269.1 L730.4,268.4 L730.9,267.8 L731.3,267.5 L731.8,269.2 L732.2,265.5 L732.7,265.3 L733.1,263.6 L733.6,260.5 L734.1,259.3 L734.5,259.1 L735.0,255.8 L735.5,258.4 L736.0,257.5 L736.4,257.9 L736.9,256.8 L737.4,252.6 L737.9,252.8 L738.3,250.8 L738.8,248.4 L739.3,249.3 L739.7,251.4 L740.2,252.7 L740.7,254.3 L741.2,255.2 L741.6,255.4 L742.1,255.6 L742.6,255.1 L743.1,255.7 L743.5,256.4 L744.0,256.2 L744.5,254.5 L745.0,253.7 L745.4,253.2 L745.9,249.7 L746.4,249.1 L746.9,247.0 L747.4,247.6 L747.9,244.8 L748.3,245.7 L748.8,245.5 L749.3,242.7 L749.8,243.9 L750.3,242.7 L750.8,241.6 L751.3,240.7 L751.8,240.1 L752.3,240.7 L752.8,239.6 L753.3,240.8 L753.8,243.3 L754.2,242.9 L754.7,245.4 L755.2,245.8 L755.6,245.6 L756.1,246.9 L756.6,249.7 L757.1,252.7 L757.6,253.7 L758.2,255.5 L758.7,260.8 L759.2,263.6 L759.7,265.3 L760.2,263.2 L760.7,258.5 L761.2,257.1 L761.8,253.3 L762.3,250.8 L762.8,248.6 L763.3,247.4 L763.7,248.0 L764.2,249.9 L764.7,252.4 L765.1,253.0 L765.6,253.9 L766.1,255.8 L766.5,257.4 L767.0,260.3 L767.5,261.3 L767.9,264.3 L768.4,264.1 L768.8,262.0 L769.3,265.9 L769.7,265.2 L770.2,266.9 L770.6,270.1 L771.1,268.0 L771.5,268.3 L772.0,269.1 L772.4,268.8 L772.9,268.9 L773.4,267.7 L773.8,264.2 L774.3,263.0 L774.8,262.9 L775.2,259.6 L775.7,259.6 L776.2,257.6 L776.6,256.2 L777.1,253.6 L777.6,249.6 L778.0,247.2 L778.5,245.8 L779.0,247.8 L779.5,248.0 L780.0,249.8 L780.6,251.8 L781.1,253.2 L781.6,258.8 L782.1,258.5 L782.5,261.3 L783.0,261.3 L783.5,260.3 L784.0,262.0 L784.4,262.0 L784.9,262.0 L785.4,262.6 L785.9,266.5 L786.3,266.9 L786.8,268.2 L787.3,271.0 L787.7,273.2 L788.2,274.0 L788.7,277.2 L789.2,278.7 L789.6,282.9 L790.1,282.9 L790.6,286.3 L791.1,290.2 L791.5,291.9 L792.0,293.4 L792.5,290.5 L793.0,289.8 L793.5,288.4 L794.0,285.3 L794.5,283.7 L795.0,281.3 L795.5,278.9 L796.0,280.0 L796.5,282.5 L797.0,285.6 L797.5,287.0 L798.0,286.8 L798.4,290.8 L798.9,294.5 L799.4,296.1 L799.9,299.7 L800.4,299.9 L800.9,299.8 L801.3,298.8 L801.8,297.9 L802.3,294.8 L802.8,294.8 L803.2,294.3 L803.7,291.2 L804.2,292.7 L804.7,292.9 L805.1,290.6 L805.6,288.4 L806.1,289.4 L806.6,288.9 L807.0,287.7 L807.5,286.3 L808.0,286.1 L808.5,285.2 L809.0,284.6 L809.5,286.8 L809.9,284.9 L810.4,285.1 L810.9,285.1 L811.4,283.9 L811.8,281.8 L812.3,281.2 L812.8,278.5 L813.3,278.5 L813.7,278.8 L814.2,277.8 L814.7,277.6 L815.2,274.4 L815.6,274.2 L816.1,271.9 L816.6,272.2 L817.1,269.9 L817.5,269.5 L818.0,265.8 L818.5,266.4 L819.0,268.4 L819.5,271.3 L820.0,270.8 L820.5,274.1 L821.0,276.5 L821.5,278.0 L822.0,279.5 L822.5,281.0 L823.0,280.3 L823.5,279.3 L824.0,279.3 L824.5,282.3 L825.0,284.6 L825.5,284.8 L826.0,285.0 L826.4,286.9 L826.9,289.6 L827.3,292.5 L827.8,295.1 L828.2,295.3 L828.7,297.0 L829.1,297.9 L829.6,297.4 L830.1,297.3 L830.6,298.5 L831.0,299.7 L831.5,302.4 L832.0,301.1 L832.5,302.2 L833.0,300.0 L833.4,298.9 L833.9,297.0 L834.3,296.9 L834.8,295.5 L835.2,296.4 L835.7,295.3 L836.2,294.1 L836.6,294.4 L837.1,292.9 L837.5,293.1 L838.0,290.6 L838.5,294.0 L839.0,298.1 L839.4,300.1 L839.9,303.1 L840.4,305.5 L840.9,306.3 L841.3,308.6 L841.8,311.8 L842.3,314.7 L842.8,312.4 L843.2,311.5 L843.7,308.2 L844.2,305.2 L844.6,306.0 L845.1,305.4 L845.6,304.6 L846.0,302.8 L846.5,301.5 L847.0,299.3 L847.4,298.5 L847.9,296.3 L848.4,295.6 L848.8,294.9 L849.3,294.7 L849.7,296.5 L850.2,296.9 L850.6,297.4 L851.1,298.5 L851.6,298.5 L852.0,299.3 L852.5,298.3 L852.9,299.5 L853.4,299.5 L853.9,300.7 L854.3,301.8 L854.8,305.1 L855.3,305.2 L855.7,308.5 L856.2,310.4 L856.7,311.8 L857.1,312.0 L857.6,312.6 L858.1,314.7 L858.5,317.6 L859.0,319.5 L859.5,316.1 L859.9,314.4 L860.4,312.8 L860.8,310.0 L861.2,309.3 L861.7,307.4 L862.1,306.0 L862.6,305.7 L863.0,304.0 L863.5,302.0 L864.0,300.7 L864.4,300.5 L864.9,298.4 L865.4,297.4 L865.9,297.9 L866.3,297.3 L866.8,294.8 L867.3,293.8 L867.8,292.9 L868.2,291.2 L868.7,289.6 L869.2,291.7 L869.6,291.5 L870.1,291.7 L870.6,291.5 L871.0,293.4 L871.5,294.2 L872.0,297.1 L872.4,296.2 L872.9,297.7 L873.4,298.3 L873.8,298.7 L874.3,298.6 L874.8,300.5 L875.2,301.4 L875.7,301.4 L876.2,300.2 L876.6,298.7 L877.1,298.4 L877.6,298.1 L878.0,298.1 L878.5,295.3 L879.0,294.7 L879.4,294.8 L879.9,292.9 L880.4,293.0 L880.8,292.0 L881.3,290.7 L881.8,290.5 L882.2,288.0 L882.7,287.9 L883.2,288.2 L883.6,286.4 L884.1,285.4 L884.5,285.3 L885.0,286.6 L885.5,283.0 L885.9,283.3 L886.4,280.5 L886.9,281.3 L887.3,279.7 L887.8,279.5 L888.2,278.6 L888.7,280.9 L889.2,278.5 L889.6,278.2 L890.1,275.7 L890.6,276.8 L891.0,276.1 L891.5,276.9 L891.9,277.0 L892.4,279.4 L892.9,277.4 L893.3,274.4 L893.8,274.7 L894.3,273.9 L894.7,271.1 L895.2,271.7 L895.7,270.5 L896.1,269.7 L896.6,268.5 L897.1,269.2 L897.5,268.4 L898.0,269.0 L898.5,267.6 L898.9,265.3 L899.4,266.1 L899.9,265.1 L900.3,262.9 L900.8,261.0 L901.3,261.0 L901.7,260.8 L902.2,258.6 L902.7,256.5 L903.1,255.5 L903.6,255.9 L904.1,253.9 L904.5,255.0 L905.0,255.8 L905.4,255.0 L905.9,255.4 L906.3,253.0 L906.8,250.8 L907.3,251.8 L907.7,250.8 L908.2,250.2 L908.6,252.2 L909.1,250.5 L909.5,249.9 L910.0,251.4 L910.5,253.1 L910.9,252.7 L911.4,250.4 L911.9,249.4 L912.3,248.5 L912.8,247.2 L913.3,246.4 L913.8,247.3 L914.2,247.8 L914.7,250.3 L915.2,249.3 L915.6,248.9 L916.1,247.8 L916.6,245.2 L917.0,246.3 L917.5,245.5 L918.0,246.1 L918.4,244.4 L918.9,248.0 L919.4,249.6 L919.8,251.4 L920.3,252.9 L920.8,252.6 L921.2,252.5 L921.7,253.0 L922.2,253.5 L922.6,252.3 L923.1,252.6 L923.6,255.5 L924.0,257.3 L924.5,259.0 L925.0,258.8 L925.4,259.6 L925.9,257.4 L926.3,256.1 L926.8,256.7 L927.3,253.8 L927.7,253.2 L928.2,252.1 L928.6,251.6 L929.1,251.2 L929.6,250.1 L930.0,249.2 L930.5,248.5 L930.9,248.5 L931.4,246.4 L931.9,248.3 L932.3,248.3 L932.8,250.3 L933.3,250.8 L933.7,251.0 L934.2,254.5 L934.7,253.8 L935.1,252.5 L935.6,255.9 L936.1,255.9 L936.5,255.4 L937.0,256.3 L937.5,254.5 L938.0,255.1 L938.5,254.9 L939.0,253.7 L939.5,251.9 L940.0,250.9 L940.5,249.8 L941.0,248.3 L941.5,248.9 L942.0,250.5 L942.4,251.7 L942.9,256.0 L943.4,256.8 L943.9,257.9 L944.3,260.4 L944.8,261.6 L945.3,263.8 L945.8,260.0 L946.2,258.8 L946.7,256.1 L947.2,255.0 L947.7,250.9 L948.1,248.0 L948.6,247.6 L949.1,246.1 L949.6,244.0 L950.0,241.7 L950.5,240.1 L951.0,238.6 L951.5,238.6 L951.9,237.9 L952.4,238.1 L952.8,239.4 L953.3,240.7 L953.7,240.3 L954.2,241.0 L954.6,238.8 L955.1,241.2 L955.5,239.6 L956.0,235.6 L956.5,236.2 L956.9,235.1 L957.4,237.1 L957.8,237.0 L958.3,234.5 L958.8,236.7 L959.2,234.5 L959.7,237.1 L960.2,233.7 L960.6,232.3 L961.1,234.6 L961.5,235.8 L962.0,234.2 L962.5,237.9 L962.9,238.6 L963.4,237.7 L963.9,240.2 L964.3,241.9 L964.8,241.6 L965.3,241.3 L965.7,240.6 L966.2,239.6 L966.7,237.1 L967.1,237.8 L967.6,235.5 L968.1,232.8 L968.5,232.9 L969.0,231.8 L969.5,230.2 L969.9,230.9 L970.4,231.1 L970.9,227.4 L971.3,226.4 L971.8,224.7 L972.3,225.9 L972.7,227.4 L973.2,225.5 L973.7,224.3 L974.1,225.1 L974.6,222.3 L975.1,223.7 L975.5,222.5 L976.0,221.2 L976.5,223.0 L976.9,222.4 L977.4,222.2 L977.9,224.4 L978.3,221.8 L978.8,224.3 L979.3,224.9 L979.7,227.1 L980.2,228.8 L980.7,230.2 L981.1,229.4 L981.6,232.2 L982.1,228.9 L982.6,228.8 L983.1,229.1 L983.6,229.8 L984.0,226.6 L984.5,225.4 L985.0,223.4 L985.5,223.9 L986.0,224.5 L986.5,221.4 L986.9,220.5 L987.4,219.3 L987.8,218.7 L988.3,214.3 L988.8,217.7 L989.2,220.3 L989.7,219.6 L990.2,218.6 L990.6,220.1 L991.1,216.6 L991.5,214.8 L992.0,213.5 L992.5,213.5 L992.9,212.9 L993.4,216.7 L993.9,218.8 L994.4,217.4 L994.8,219.6 L995.3,219.1 L995.8,221.9 L996.2,225.1 L996.7,226.9 L997.2,227.8 L997.7,227.3 L998.1,225.3 L998.6,219.4 L999.1,220.8 L999.5,216.8 L1000.0,214.0 L1000.5,213.3 L1001.0,211.1 L1001.5,208.0 L1001.9,207.9 L1002.4,208.2 L1002.9,207.0 L1003.3,204.7 L1003.8,204.5 L1004.3,204.9 L1004.8,208.0 L1005.2,205.1 L1005.7,203.3 L1006.2,202.0 L1006.6,201.5 L1007.1,202.3 L1007.6,201.0 L1008.0,201.2 L1008.5,201.9 L1009.0,199.7 L1009.4,200.8 L1009.9,200.3 L1010.4,198.9 L1010.8,199.1 L1011.3,196.4 L1011.8,194.1 L1012.2,191.7 L1012.7,192.8 L1013.2,193.6 L1013.6,192.4 L1014.1,189.6 L1014.6,190.0 L1015.0,187.1 L1015.5,186.0 L1016.0,182.2 L1016.4,182.0 L1016.9,179.7 L1017.4,180.5 L1017.8,178.3 L1018.3,175.9 L1018.8,177.1 L1019.2,177.2 L1019.7,180.9 L1020.2,181.0 L1020.7,182.7 L1021.1,185.2 L1021.6,186.6 L1022.1,188.5 L1022.6,192.8 L1023.0,190.1 L1023.5,193.3 L1024.0,197.9 L1024.5,196.8 L1025.0,201.7 L1025.5,203.1 L1026.0,206.7 L1026.5,206.7 L1027.0,209.1 L1027.5,207.7 L1027.9,207.3 L1028.4,206.2 L1028.8,206.3 L1029.3,204.2 L1029.7,200.0 L1030.2,197.0 L1030.6,196.5 L1031.1,195.6 L1031.5,191.7 L1032.0,189.5 L1032.5,189.0 L1032.9,189.6 L1033.4,192.9 L1033.8,197.3 L1034.3,196.6 L1034.8,195.7 L1035.2,199.1 L1035.7,199.7 L1036.2,201.3 L1036.6,200.0 L1037.1,196.5 L1037.6,193.6 L1038.1,190.6 L1038.5,191.5 L1039.0,189.8 L1039.5,188.6 L1040.0,188.6 L1040.4,190.5 L1040.9,188.8 L1041.4,188.0 L1041.9,188.7 L1042.5,189.5 L1043.0,189.0 L1043.5,190.7 L1044.0,192.5 L1044.5,190.2 L1044.9,189.4 L1045.4,189.0 L1045.9,189.9 L1046.3,188.7 L1046.8,186.4 L1047.3,185.2 L1047.7,185.4 L1048.2,183.0 L1048.7,182.5 L1049.1,181.9 L1049.6,181.0 L1050.1,182.4 L1050.6,185.1 L1051.1,185.7 L1051.5,186.9 L1052.0,188.2 L1052.5,190.5 L1053.0,188.4 L1053.5,187.9 L1054.0,184.6 L1054.5,186.9 L1055.0,183.4 L1055.5,180.8 L1056.0,178.3 L1056.5,177.2 L1057.0,176.7 L1057.5,176.3 L1058.0,177.2 L1058.5,179.1 L1059.0,179.5 L1059.5,180.5 L1060.0,181.0 L1060.5,180.4 L1060.9,176.6 L1061.4,173.2 L1061.8,171.2 L1062.3,170.8 L1062.7,167.7 L1063.2,164.6 L1063.6,163.1 L1064.1,161.3 L1064.5,158.1 L1065.0,155.3 L1065.5,155.7 L1065.9,155.5 L1066.4,155.1 L1066.8,155.2 L1067.3,154.0 L1067.8,152.3 L1068.2,157.2 L1068.7,154.8 L1069.2,157.4 L1069.6,160.6 L1070.1,163.0 L1070.6,165.0 L1071.1,169.8 L1071.5,172.0 L1072.0,173.2 L1072.5,170.5 L1072.9,170.9 L1073.3,170.8 L1073.8,169.2 L1074.2,169.3 L1074.7,167.6 L1075.2,167.1 L1075.6,167.5 L1076.1,166.8 L1076.5,163.9 L1077.0,163.2 L1077.4,158.6 L1077.9,163.1 L1078.4,166.8 L1078.9,166.7 L1079.5,170.0 L1080.0,168.4 L1080.5,170.0 L1081.0,171.3 L1081.5,169.8 L1082.0,169.8 L1082.5,164.9 L1083.0,166.1 L1083.5,167.3 L1084.0,168.8 L1084.4,168.3 L1084.9,169.6 L1085.4,173.3 L1085.9,175.2 L1086.4,175.7 L1086.8,178.0 L1087.3,178.4 L1087.8,179.3 L1088.3,184.5 L1088.7,183.1 L1089.2,189.1 L1089.6,192.3 L1090.1,191.9 L1090.5,196.7 L1091.0,198.9 L1091.5,194.9 L1091.9,192.4 L1092.3,189.7 L1092.8,187.5 L1093.2,187.3 L1093.7,183.9 L1094.2,192.9 L1094.7,195.3 L1095.2,200.6 L1095.7,205.6 L1096.1,208.6 L1096.6,215.8 L1097.1,217.9 L1097.6,222.7 L1098.1,217.5 L1098.6,214.3 L1099.0,210.0 L1099.5,205.3 L1100.0,200.1 L1100.6,205.0 L1101.1,212.9 L1101.7,217.1 L1102.2,212.8 L1102.6,211.1 L1103.1,204.4 L1103.6,200.9 L1104.0,195.3 L1104.5,193.7 L1105.0,191.7 L1105.4,192.9 L1105.9,189.7 L1106.4,188.7 L1106.8,183.8 L1107.3,186.5 L1107.8,185.2 L1108.2,182.9 L1108.7,182.6 L1109.2,181.9 L1109.6,185.7 L1110.1,185.7 L1110.6,185.7 L1111.1,186.3 L1111.5,184.9 L1112.0,186.7 L1112.5,184.0 L1112.9,180.6 L1113.4,181.9 L1113.8,179.7 L1114.3,177.7 L1114.8,177.9 L1115.2,175.8 L1115.7,175.5 L1116.2,177.6 L1116.7,176.9 L1117.1,176.1 L1117.6,170.9 L1118.1,173.1 L1118.6,173.2 L1119.1,170.9 L1119.6,170.6 L1120.0,169.0 L1120.5,167.1 L1121.0,167.3 L1121.5,164.8 L1121.9,166.4 L1122.4,167.4 L1122.8,165.1 L1123.3,165.8 L1123.7,162.0 L1124.2,162.3 L1124.6,159.6 L1125.1,157.6 L1125.5,159.6 L1126.0,157.9 L1126.5,156.3 L1126.9,156.9 L1127.4,157.1 L1127.8,158.3 L1128.3,155.5 L1128.7,154.1 L1129.2,153.0 L1129.6,151.1 L1130.1,151.3 L1130.5,150.4 L1131.0,148.4 L1131.5,148.8 L1132.0,148.6 L1132.4,146.2 L1132.9,142.9 L1133.4,142.6 L1133.8,143.6 L1134.3,143.2 L1134.8,142.6 L1135.4,147.8 L1135.9,149.9 L1136.5,150.3 L1137.0,150.7 L1137.4,147.6 L1137.9,147.4 L1138.4,144.4 L1138.8,143.5 L1139.3,141.2 L1139.8,141.0 L1140.2,135.6 L1140.7,133.5 L1141.2,137.1 L1141.6,133.2 L1142.1,129.1 L1142.5,125.8 L1143.0,124.1 L1143.5,125.0 L1143.9,121.5 L1144.4,123.3 L1144.8,122.4 L1145.3,120.7 L1145.8,120.8 L1146.3,121.8 L1146.7,122.1 L1147.2,124.1 L1147.7,123.9" fill="none" stroke="#4287f5" stroke-width="3" stroke-linejoin="round" stroke-linecap="round"/>
<path d="M10.5,399.2 L11.0,399.9 L11.4,399.9 L11.9,398.7 L12.3,399.2 L12.8,399.1 L13.3,399.3 L13.7,399.6 L14.2,398.9 L14.6,399.5 L15.1,399.2 L15.6,399.5 L16.0,399.7 L16.5,399.6 L16.9,399.8 L17.4,399.0 L17.9,399.3 L18.3,399.1 L18.8,397.6 L19.3,398.0 L19.8,398.5 L20.2,397.4 L20.7,396.4 L21.2,396.1 L21.7,396.0 L22.1,396.4 L22.6,396.0 L23.1,396.1 L23.6,395.7 L24.1,395.7 L24.5,396.5 L25.0,395.7 L25.5,396.2 L26.0,396.8 L26.5,396.7 L27.0,396.4 L27.5,397.5 L28.0,397.6 L28.4,397.3 L28.9,397.9 L29.4,398.7 L29.9,398.5 L30.4,399.0 L30.9,398.5 L31.4,399.2 L31.9,398.5 L32.4,397.9 L32.8,398.0 L33.3,398.1 L33.8,397.1 L34.3,397.3 L34.8,396.9 L35.3,397.2 L35.7,396.1 L36.2,396.7 L36.6,396.5 L37.1,396.9 L37.6,396.1 L38.0,396.3 L38.5,395.9 L38.9,396.5 L39.4,396.4 L39.9,396.5 L40.3,395.6 L40.8,395.7 L41.2,396.6 L41.7,396.4 L42.2,396.6 L42.6,396.2 L43.1,396.1 L43.5,395.8 L44.0,396.2 L44.4,396.1 L44.9,395.7 L45.4,395.6 L45.8,395.6 L46.3,396.2 L46.7,396.0 L47.2,395.4 L47.7,395.4 L48.1,395.7 L48.6,395.5 L49.0,395.5 L49.5,396.0 L49.9,396.0 L50.4,396.7 L50.9,396.7 L51.3,396.5 L51.8,396.4 L52.3,395.6 L52.7,395.4 L53.2,395.3 L53.7,394.9 L54.1,396.1 L54.6,395.4 L55.1,395.6 L55.5,396.0 L56.0,395.9 L56.5,396.5 L56.9,396.6 L57.4,396.2 L57.9,396.8 L58.3,396.5 L58.8,396.9 L59.3,396.9 L59.7,397.0 L60.2,397.7 L60.7,397.0 L61.2,398.5 L61.6,398.9 L62.1,398.5 L62.6,398.4 L63.0,398.7 L63.5,397.7 L64.0,396.7 L64.5,396.9 L64.9,395.6 L65.4,395.4 L65.9,395.1 L66.4,394.6 L66.8,394.8 L67.3,394.6 L67.8,394.4 L68.3,394.7 L68.7,394.6 L69.2,394.2 L69.7,394.3 L70.1,394.5 L70.6,394.3 L71.1,395.8 L71.5,395.9 L72.0,395.7 L72.5,395.2 L72.9,395.6 L73.4,395.3 L73.9,395.9 L74.3,396.3 L74.8,396.6 L75.3,397.5 L75.8,399.4 L76.4,400.6 L76.9,402.2 L77.4,404.0 L77.9,403.3 L78.4,403.0 L78.8,402.3 L79.3,402.5 L79.8,402.0 L80.3,401.5 L80.7,401.8 L81.2,402.0 L81.7,401.9 L82.2,401.4 L82.6,401.9 L83.1,401.5 L83.6,401.2 L84.0,402.2 L84.5,402.8 L85.0,401.9 L85.5,402.4 L85.9,402.0 L86.4,402.2 L86.9,402.7 L87.3,402.5 L87.8,402.0 L88.3,402.0 L88.8,401.4 L89.3,401.4 L89.8,400.6 L90.2,400.4 L90.7,400.1 L91.2,399.9 L91.7,399.5 L92.2,400.3 L92.7,399.9 L93.1,399.5 L93.6,398.4 L94.0,397.4 L94.5,397.8 L94.9,398.3 L95.4,397.6 L95.8,397.3 L96.3,396.9 L96.7,396.7 L97.2,396.8 L97.6,395.6 L98.1,395.5 L98.5,394.7 L99.0,394.9 L99.5,395.4 L100.0,395.4 L100.5,396.0 L101.1,395.9 L101.6,396.6 L102.1,397.2 L102.6,397.1 L103.1,397.3 L103.6,396.8 L104.1,396.4 L104.5,395.7 L105.0,395.9 L105.5,395.1 L106.0,394.6 L106.5,395.0 L107.0,394.9 L107.4,395.4 L107.9,395.4 L108.4,395.9 L108.9,395.2 L109.4,396.0 L109.9,396.0 L110.3,396.2 L110.8,397.1 L111.3,396.6 L111.8,396.5 L112.3,396.9 L112.8,397.0 L113.3,396.8 L113.8,397.2 L114.3,396.7 L114.8,396.5 L115.3,397.1 L115.8,397.6 L116.3,399.4 L116.8,399.4 L117.3,400.8 L117.8,400.6 L118.3,402.0 L118.8,401.8 L119.2,403.1 L119.7,402.4 L120.2,402.6 L120.7,402.1 L121.1,401.7 L121.6,402.3 L122.1,402.9 L122.6,402.6 L123.0,403.0 L123.5,403.8 L124.0,403.9 L124.5,403.9 L124.9,403.5 L125.4,403.2 L125.9,402.6 L126.4,403.8 L126.8,403.4 L127.3,403.6 L127.8,403.6 L128.3,403.2 L128.8,402.9 L129.3,401.7 L129.8,402.1 L130.2,400.7 L130.7,400.6 L131.2,400.9 L131.7,400.6 L132.2,399.6 L132.7,399.9 L133.1,398.7 L133.6,398.1 L134.0,398.3 L134.5,398.4 L134.9,399.0 L135.4,398.7 L135.8,398.5 L136.3,398.5 L136.7,397.8 L137.2,397.8 L137.6,397.2 L138.1,397.1 L138.5,397.7 L139.0,397.9 L139.5,398.2 L139.9,397.6 L140.4,397.2 L140.9,397.0 L141.3,397.3 L141.8,397.6 L142.2,396.5 L142.7,397.1 L143.2,396.4 L143.6,396.1 L144.1,395.8 L144.6,396.0 L145.0,396.5 L145.5,396.5 L145.9,396.5 L146.4,397.4 L146.9,397.0 L147.3,396.6 L147.8,396.6 L148.3,396.8 L148.7,396.3 L149.2,396.7 L149.7,397.4 L150.2,398.1 L150.6,398.3 L151.1,397.6 L151.6,397.9 L152.1,398.2 L152.5,397.9 L153.0,398.2 L153.5,398.1 L153.9,398.0 L154.4,398.5 L154.9,397.4 L155.3,397.1 L155.8,397.4 L156.3,396.9 L156.7,397.8 L157.2,398.0 L157.7,397.2 L158.1,396.7 L158.6,397.3 L159.1,397.3 L159.5,396.6 L160.0,396.3 L160.5,397.1 L160.9,397.2 L161.4,397.3 L161.9,398.0 L162.3,397.8 L162.8,398.5 L163.3,398.7 L163.7,398.6 L164.2,399.3 L164.7,399.0 L165.1,398.8 L165.6,397.9 L166.1,398.7 L166.5,398.7 L167.0,398.5 L167.5,398.6 L167.9,397.7 L168.4,396.9 L168.8,396.4 L169.3,396.4 L169.7,395.9 L170.2,394.6 L170.6,394.4 L171.1,394.7 L171.5,393.9 L172.0,394.2 L172.5,393.9 L172.9,393.4 L173.4,393.9 L173.8,394.3 L174.3,394.3 L174.8,393.5 L175.2,393.9 L175.7,394.0 L176.1,393.5 L176.6,392.8 L177.1,393.0 L177.5,392.7 L178.0,393.6 L178.5,393.7 L178.9,393.3 L179.4,393.3 L179.8,393.7 L180.3,393.3 L180.8,393.6 L181.2,393.1 L181.7,393.1 L182.1,393.1 L182.6,393.0 L183.1,392.7 L183.5,393.9 L184.0,392.9 L184.4,392.4 L184.9,392.6 L185.3,392.5 L185.8,392.4 L186.2,392.6 L186.7,393.2 L187.1,393.2 L187.6,392.6 L188.0,393.1 L188.5,393.6 L188.9,393.2 L189.4,393.6 L189.8,393.0 L190.3,392.7 L190.7,393.6 L191.2,393.6 L191.6,393.4 L192.1,393.4 L192.5,393.8 L193.0,394.2 L193.4,393.1 L193.9,393.8 L194.3,393.9 L194.8,393.3 L195.3,394.1 L195.7,394.0 L196.2,393.6 L196.6,394.0 L197.1,393.4 L197.6,393.7 L198.0,393.7 L198.5,393.2 L198.9,393.1 L199.4,393.1 L199.9,393.4 L200.3,393.0 L200.8,393.6 L201.2,393.9 L201.7,393.7 L202.2,394.0 L202.7,393.7 L203.1,394.1 L203.6,395.7 L204.1,395.7 L204.6,395.4 L205.0,395.8 L205.5,395.6 L206.0,395.7 L206.5,395.4 L207.0,395.4 L207.5,395.0 L208.0,394.4 L208.4,393.9 L208.9,394.3 L209.4,394.0 L209.9,394.1 L210.4,393.7 L210.9,393.3 L211.3,393.0 L211.8,392.6 L212.3,392.5 L212.7,392.6 L213.2,392.9 L213.7,392.5 L214.1,391.8 L214.6,391.9 L215.1,391.7 L215.5,390.7 L216.0,390.2 L216.5,390.7 L216.9,391.1 L217.4,391.5 L217.9,390.6 L218.3,391.1 L218.8,391.2 L219.2,391.1 L219.7,390.6 L220.1,390.8 L220.6,390.6 L221.0,391.0 L221.5,389.9 L221.9,390.7 L222.4,391.0 L222.9,390.6 L223.3,390.7 L223.8,390.3 L224.2,390.9 L224.7,390.4 L225.1,390.7 L225.6,390.7 L226.0,390.3 L226.5,390.2 L226.9,389.3 L227.4,389.5 L227.9,389.4 L228.3,389.6 L228.8,389.6 L229.2,389.3 L229.7,389.6 L230.1,388.5 L230.6,389.9 L231.0,390.2 L231.5,389.8 L231.9,389.9 L232.4,389.4 L232.8,389.0 L233.3,388.7 L233.7,388.2 L234.2,388.7 L234.6,387.4 L235.1,387.5 L235.5,388.0 L236.0,387.5 L236.4,386.3 L236.9,386.2 L237.3,387.3 L237.8,385.7 L238.3,386.3 L238.7,386.7 L239.2,386.5 L239.6,385.8 L240.1,386.2 L240.5,386.9 L241.0,387.1 L241.4,386.9 L241.9,387.1 L242.3,386.7 L242.8,387.0 L243.2,387.1 L243.7,387.1 L244.1,387.3 L244.6,387.7 L245.0,386.4 L245.5,386.6 L245.9,386.2 L246.4,386.8 L246.8,387.7 L247.3,387.2 L247.7,387.8 L248.2,387.9 L248.6,388.4 L249.1,388.2 L249.5,388.7 L250.0,388.0 L250.5,387.8 L250.9,387.2 L251.4,387.0 L251.8,386.3 L252.3,387.0 L252.8,386.9 L253.2,387.2 L253.7,386.4 L254.2,387.0 L254.6,386.8 L255.1,386.8 L255.5,386.1 L256.0,386.1 L256.5,386.2 L256.9,386.6 L257.4,386.6 L257.8,386.2 L258.3,386.2 L258.8,385.8 L259.2,385.8 L259.7,386.5 L260.2,385.6 L260.6,386.6 L261.1,386.6 L261.5,385.8 L262.0,385.9 L262.4,386.2 L262.9,385.8 L263.4,385.7 L263.8,386.3 L264.2,386.4 L264.7,386.6 L265.1,386.3 L265.6,385.6 L266.1,385.7 L266.5,385.7 L266.9,385.9 L267.4,385.8 L267.9,385.9 L268.3,385.6 L268.8,384.9 L269.2,385.2 L269.6,384.6 L270.1,384.2 L270.6,384.2 L271.0,384.6 L271.5,383.7 L271.9,383.3 L272.4,383.4 L272.8,383.5 L273.3,383.9 L273.8,383.8 L274.2,384.1 L274.7,384.7 L275.2,384.5 L275.6,384.6 L276.1,384.8 L276.5,384.1 L277.0,383.8 L277.5,384.9 L277.9,384.7 L278.4,383.7 L278.8,384.2 L279.3,383.5 L279.8,383.2 L280.2,383.1 L280.7,382.9 L281.2,382.3 L281.6,383.1 L282.1,382.5 L282.5,382.4 L283.0,382.9 L283.5,382.7 L283.9,382.8 L284.4,383.4 L284.8,383.3 L285.3,382.5 L285.7,382.9 L286.2,383.0 L286.7,383.6 L287.1,383.6 L287.6,383.7 L288.0,383.6 L288.5,384.1 L289.0,383.8 L289.4,384.0 L289.9,383.7 L290.3,383.8 L290.8,384.7 L291.2,384.7 L291.7,384.7 L292.2,383.6 L292.6,383.5 L293.1,383.0 L293.5,383.5 L294.0,384.0 L294.4,384.1 L294.9,383.9 L295.3,383.3 L295.8,382.3 L296.3,382.5 L296.7,382.7 L297.2,382.6 L297.6,383.0 L298.1,383.8 L298.5,383.2 L299.0,383.0 L299.4,382.6 L299.9,382.3 L300.4,382.6 L300.8,382.4 L301.3,381.7 L301.7,381.6 L302.2,382.5 L302.6,382.3 L303.1,382.3 L303.5,381.5 L304.0,381.7 L304.5,381.1 L304.9,380.9 L305.4,380.6 L305.9,381.0 L306.3,381.3 L306.8,381.3 L307.3,381.6 L307.7,381.8 L308.2,381.2 L308.7,381.5 L309.1,380.5 L309.6,379.9 L310.1,379.9 L310.6,380.2 L311.0,381.0 L311.5,380.2 L312.0,380.0 L312.4,379.5 L312.9,378.6 L313.4,379.2 L313.8,379.1 L314.3,379.2 L314.8,379.7 L315.2,379.4 L315.7,380.0 L316.1,379.6 L316.6,379.2 L317.0,379.3 L317.5,379.6 L318.0,378.9 L318.4,378.1 L318.9,378.7 L319.3,379.6 L319.8,378.9 L320.2,379.6 L320.7,378.5 L321.1,377.9 L321.6,378.0 L322.1,378.2 L322.5,378.4 L323.0,378.0 L323.4,377.2 L323.9,377.5 L324.3,376.8 L324.8,377.1 L325.3,376.7 L325.7,376.1 L326.2,376.0 L326.6,375.8 L327.1,374.6 L327.5,374.9 L328.0,374.1 L328.4,374.3 L328.9,374.2 L329.3,374.0 L329.8,373.8 L330.2,373.8 L330.7,372.8 L331.1,373.2 L331.6,373.0 L332.0,373.3 L332.5,372.5 L332.9,372.1 L333.4,371.8 L333.8,372.1 L334.3,371.6 L334.7,370.9 L335.2,371.3 L335.7,373.0 L336.2,373.8 L336.7,375.6 L337.2,376.1 L337.7,377.5 L338.2,379.1 L338.7,380.3 L339.2,380.0 L339.7,378.4 L340.2,378.8 L340.7,378.2 L341.2,377.8 L341.7,377.0 L342.2,375.3 L342.7,375.3 L343.1,374.9 L343.6,375.7 L344.1,375.0 L344.5,375.1 L345.0,375.7 L345.5,376.2 L346.0,375.2 L346.4,374.9 L346.9,374.6 L347.4,375.2 L347.8,375.1 L348.3,373.4 L348.8,374.6 L349.3,374.6 L349.7,375.0 L350.2,376.4 L350.7,376.9 L351.2,377.9 L351.6,378.3 L352.1,379.7 L352.6,380.0 L353.1,380.6 L353.5,380.2 L354.0,379.0 L354.5,379.7 L354.9,379.1 L355.4,379.6 L355.9,379.2 L356.3,379.1 L356.8,379.0 L357.3,378.4 L357.7,377.6 L358.2,377.4 L358.7,376.5 L359.1,377.0 L359.6,376.3 L360.1,376.6 L360.6,377.1 L361.1,377.6 L361.5,376.8 L362.0,376.9 L362.5,377.9 L363.0,378.1 L363.5,378.2 L363.9,377.7 L364.4,377.9 L364.9,377.2 L365.3,377.6 L365.8,377.4 L366.3,376.6 L366.7,377.3 L367.2,376.3 L367.7,375.1 L368.1,375.0 L368.6,375.0 L369.1,374.1 L369.5,374.1 L370.0,373.8 L370.5,374.4 L370.9,374.0 L371.4,375.0 L371.9,376.0 L372.4,375.6 L372.8,374.4 L373.3,374.8 L373.8,374.9 L374.3,375.1 L374.7,375.6 L375.2,375.1 L375.7,375.1 L376.1,375.1 L376.6,376.2 L377.1,376.9 L377.6,376.3 L378.0,377.3 L378.5,377.3 L379.0,377.0 L379.5,376.6 L379.9,376.5 L380.4,376.4 L380.9,376.0 L381.3,375.9 L381.8,376.1 L382.3,375.4 L382.7,375.9 L383.2,376.0 L383.7,375.3 L384.1,374.9 L384.6,375.6 L385.1,375.4 L385.5,374.1 L386.0,373.8 L386.5,374.6 L386.9,373.1 L387.4,373.6 L387.9,372.7 L388.3,372.2 L388.8,372.6 L389.2,370.8 L389.7,371.3 L390.1,370.3 L390.6,370.2 L391.0,370.4 L391.5,370.8 L391.9,369.8 L392.4,370.3 L392.8,369.9 L393.3,370.0 L393.7,371.3 L394.2,370.3 L394.6,371.0 L395.1,370.4 L395.5,370.3 L396.0,370.5 L396.4,370.9 L396.9,370.3 L397.3,370.4 L397.8,370.3 L398.3,370.0 L398.7,370.2 L399.2,370.9 L399.6,370.8 L400.1,370.6 L400.5,370.9 L401.0,371.2 L401.5,371.0 L401.9,371.3 L402.4,372.1 L402.8,371.7 L403.3,370.7 L403.7,370.5 L404.2,370.3 L404.6,370.1 L405.1,370.6 L405.6,369.9 L406.0,369.0 L406.5,368.7 L406.9,369.2 L407.4,369.7 L407.8,369.2 L408.3,368.5 L408.8,369.0 L409.3,370.6 L409.9,371.2 L410.4,372.2 L410.9,373.1 L411.4,373.5 L411.8,374.3 L412.3,373.8 L412.8,374.7 L413.2,374.8 L413.7,374.5 L414.1,375.7 L414.6,375.2 L415.1,377.2 L415.5,377.2 L416.0,378.1 L416.5,377.7 L417.1,376.6 L417.6,376.5 L418.2,375.4 L418.7,375.2 L419.2,375.8 L419.7,375.2 L420.1,375.1 L420.6,375.7 L421.1,376.9 L421.6,377.4 L422.1,378.1 L422.6,377.5 L423.0,377.1 L423.5,377.8 L424.0,378.3 L424.5,378.0 L425.0,377.3 L425.5,376.3 L426.0,376.0 L426.5,375.0 L427.0,376.4 L427.5,377.5 L428.0,379.1 L428.5,379.5 L429.0,380.3 L429.5,382.3 L430.1,383.4 L430.6,384.9 L431.2,387.1 L431.7,387.9 L432.2,386.7 L432.6,387.5 L433.1,386.2 L433.6,386.8 L434.1,385.6 L434.5,386.2 L435.0,386.1 L435.5,385.9 L435.9,385.1 L436.4,384.1 L436.8,384.1 L437.3,384.1 L437.8,383.7 L438.2,383.5 L438.7,383.6 L439.2,382.6 L439.6,382.9 L440.1,382.2 L440.5,380.9 L441.0,380.7 L441.5,380.0 L441.9,379.0 L442.4,378.6 L442.9,379.1 L443.4,378.7 L443.9,378.0 L444.3,377.4 L444.8,376.8 L445.3,376.6 L445.7,375.7 L446.2,376.7 L446.7,375.9 L447.2,376.3 L447.6,374.9 L448.1,374.7 L448.6,375.2 L449.1,375.1 L449.5,375.5 L450.0,374.4 L450.5,374.5 L450.9,374.3 L451.4,374.0 L451.8,374.4 L452.3,373.6 L452.8,373.5 L453.2,373.3 L453.7,372.8 L454.2,372.5 L454.6,373.0 L455.1,372.4 L455.5,371.7 L456.0,372.6 L456.5,372.6 L456.9,371.7 L457.4,371.0 L457.8,371.6 L458.3,370.9 L458.7,371.4 L459.2,371.8 L459.6,370.9 L460.1,370.9 L460.6,369.9 L461.0,369.6 L461.5,369.9 L461.9,370.0 L462.4,370.4 L462.8,370.1 L463.3,370.2 L463.8,369.6 L464.2,369.3 L464.7,368.9 L465.1,369.6 L465.6,369.2 L466.0,368.2 L466.5,368.7 L466.9,368.5 L467.4,367.4 L467.9,367.7 L468.3,367.8 L468.8,367.6 L469.3,368.1 L469.8,368.7 L470.2,369.1 L470.7,370.2 L471.2,371.0 L471.7,371.5 L472.1,371.4 L472.6,372.7 L473.1,372.3 L473.5,373.5 L474.0,373.0 L474.5,373.4 L475.0,373.0 L475.4,373.7 L475.9,375.3 L476.4,376.4 L476.9,375.5 L477.3,376.6 L477.8,376.4 L478.3,376.1 L478.7,375.5 L479.2,375.2 L479.7,373.9 L480.1,373.3 L480.6,372.6 L481.1,373.0 L481.5,372.4 L482.0,371.9 L482.5,370.7 L482.9,370.2 L483.4,370.5 L483.8,369.6 L484.3,369.8 L484.8,368.9 L485.2,369.4 L485.7,369.6 L486.1,369.5 L486.6,368.4 L487.1,368.3 L487.5,369.2 L488.0,367.5 L488.5,367.9 L488.9,367.0 L489.4,367.6 L489.8,367.6 L490.3,368.0 L490.8,367.0 L491.2,366.7 L491.7,365.9 L492.1,365.8 L492.6,366.5 L493.1,367.5 L493.6,367.0 L494.1,367.8 L494.6,367.3 L495.0,368.0 L495.5,369.5 L496.0,369.3 L496.5,369.8 L497.0,370.3 L497.5,370.0 L497.9,370.9 L498.4,371.0 L498.8,371.9 L499.3,371.6 L499.8,371.4 L500.2,371.2 L500.7,370.9 L501.2,370.2 L501.6,369.1 L502.1,370.5 L502.5,369.6 L503.0,368.6 L503.5,369.0 L503.9,369.1 L504.4,369.0 L504.8,368.5 L505.3,368.3 L505.7,368.7 L506.2,368.1 L506.6,368.2 L507.1,366.7 L507.5,367.6 L508.0,366.6 L508.5,367.5 L508.9,368.1 L509.4,368.6 L509.8,369.2 L510.3,369.5 L510.8,369.0 L511.2,369.4 L511.7,369.5 L512.2,369.9 L512.6,370.2 L513.1,371.2 L513.5,371.0 L514.0,372.4 L514.5,372.8 L514.9,370.8 L515.4,369.8 L515.8,370.0 L516.3,369.5 L516.7,369.0 L517.2,369.1 L517.7,368.3 L518.1,369.0 L518.6,369.3 L519.0,368.4 L519.5,367.7 L519.9,367.3 L520.4,366.8 L520.9,366.2 L521.3,365.8 L521.8,365.9 L522.2,366.2 L522.7,365.3 L523.1,364.8 L523.6,364.5 L524.1,364.1 L524.5,364.0 L525.0,364.2 L525.4,364.4 L525.9,364.6 L526.3,365.1 L526.8,364.8 L527.2,364.2 L527.7,363.0 L528.2,363.7 L528.6,362.8 L529.1,363.1 L529.5,364.1 L530.0,363.6 L530.4,363.5 L530.9,363.0 L531.4,362.1 L531.8,361.4 L532.3,362.8 L532.7,362.1 L533.2,361.2 L533.6,362.1 L534.1,361.0 L534.6,359.9 L535.0,360.2 L535.5,360.1 L535.9,361.1 L536.4,360.8 L536.9,361.3 L537.3,359.6 L537.8,360.1 L538.2,360.0 L538.7,359.8 L539.1,359.7 L539.6,358.6 L540.1,357.8 L540.5,357.6 L541.0,357.1 L541.5,358.1 L541.9,356.6 L542.4,357.1 L542.9,356.1 L543.3,356.6 L543.8,356.8 L544.3,356.6 L544.7,357.1 L545.2,356.7 L545.7,356.8 L546.1,356.2 L546.6,356.0 L547.1,356.3 L547.5,357.5 L548.0,356.6 L548.5,356.8 L548.9,356.8 L549.4,355.9 L549.8,356.2 L550.3,356.6 L550.8,356.3 L551.2,356.0 L551.7,356.3 L552.1,356.3 L552.6,356.6 L553.0,356.3 L553.5,355.3 L554.0,357.8 L554.5,360.9 L555.0,362.7 L555.5,365.1 L556.0,366.6 L556.5,368.7 L557.0,370.8 L557.5,372.3 L558.0,373.2 L558.5,375.0 L559.0,376.4 L559.5,378.0 L560.0,379.4 L560.5,381.3 L561.0,384.1 L561.5,385.9 L562.0,388.2 L562.5,390.0 L563.0,390.8 L563.5,389.2 L563.9,387.2 L564.4,386.0 L564.8,383.4 L565.2,380.7 L565.7,379.4 L566.2,381.6 L566.6,381.0 L567.1,381.0 L567.5,381.9 L568.0,383.2 L568.5,381.9 L569.0,380.6 L569.5,379.1 L570.0,377.9 L570.5,376.4 L571.0,375.0 L571.5,374.3 L571.9,373.6 L572.4,373.9 L572.8,372.3 L573.3,372.4 L573.7,372.5 L574.2,372.7 L574.6,373.4 L575.1,372.8 L575.5,373.1 L576.0,372.4 L576.4,372.3 L576.9,372.0 L577.3,371.4 L577.8,371.1 L578.3,371.2 L578.7,370.0 L579.2,369.2 L579.7,369.1 L580.1,368.9 L580.6,368.2 L581.1,367.9 L581.5,366.0 L582.0,366.7 L582.4,365.0 L582.9,364.4 L583.4,363.6 L583.8,363.4 L584.3,363.5 L584.8,361.9 L585.2,361.6 L585.7,360.9 L586.2,362.2 L586.6,362.9 L587.1,362.9 L587.6,364.5 L588.1,365.2 L588.5,365.4 L589.0,366.3 L589.5,366.2 L589.9,366.1 L590.4,364.9 L590.9,365.9 L591.4,364.8 L591.8,365.1 L592.3,364.2 L592.8,364.1 L593.2,362.8 L593.7,362.8 L594.2,362.6 L594.6,362.0 L595.1,360.7 L595.6,360.9 L596.1,360.2 L596.5,359.5 L597.0,359.3 L597.5,359.0 L597.9,357.2 L598.4,358.3 L598.9,357.9 L599.3,357.7 L599.8,357.3 L600.3,358.2 L600.7,357.2 L601.2,358.4 L601.7,356.4 L602.1,356.5 L602.6,356.6 L603.1,356.9 L603.5,356.6 L604.0,355.1 L604.5,356.1 L604.9,356.1 L605.4,355.1 L605.9,355.8 L606.3,355.0 L606.8,353.8 L607.3,352.3 L607.7,353.2 L608.2,352.5 L608.7,353.2 L609.1,352.2 L609.6,350.2 L610.1,349.6 L610.5,348.9 L611.0,349.6 L611.5,353.1 L612.1,354.5 L612.6,355.5 L613.1,355.1 L613.6,355.5 L614.1,356.6 L614.6,357.0 L615.0,357.3 L615.5,357.9 L616.0,358.0 L616.5,358.2 L617.0,359.3 L617.5,358.3 L617.9,357.1 L618.4,356.9 L618.8,357.4 L619.3,356.2 L619.7,355.5 L620.2,354.8 L620.6,353.8 L621.1,352.6 L621.5,351.3 L622.0,352.1 L622.5,352.5 L623.0,352.1 L623.5,353.1 L624.0,354.4 L624.5,355.1 L624.9,355.1 L625.4,356.0 L625.9,355.7 L626.4,356.3 L626.9,357.1 L627.4,357.5 L627.9,357.1 L628.4,355.2 L628.8,354.0 L629.3,353.7 L629.8,352.6 L630.3,351.2 L630.7,350.9 L631.2,349.0 L631.7,348.4 L632.2,347.5 L632.6,347.2 L633.1,347.3 L633.6,346.5 L634.0,345.9 L634.5,346.4 L635.0,347.2 L635.4,345.5 L635.9,345.3 L636.4,345.2 L636.9,345.3 L637.3,345.7 L637.8,345.1 L638.3,345.2 L638.7,346.2 L639.2,346.3 L639.7,346.1 L640.1,345.8 L640.6,345.7 L641.1,344.6 L641.5,344.3 L642.0,343.2 L642.5,342.5 L642.9,342.7 L643.4,342.6 L643.8,344.6 L644.3,343.8 L644.8,343.5 L645.2,343.6 L645.7,343.5 L646.1,343.8 L646.6,343.5 L647.1,343.5 L647.5,342.5 L648.0,341.5 L648.5,342.5 L648.9,343.7 L649.4,343.8 L649.8,343.5 L650.3,341.9 L650.8,341.7 L651.2,341.1 L651.7,340.3 L652.1,339.5 L652.6,340.5 L653.1,341.5 L653.5,342.6 L654.0,344.2 L654.5,343.3 L654.9,344.1 L655.4,343.7 L655.9,344.1 L656.3,341.9 L656.8,342.9 L657.3,340.9 L657.7,339.8 L658.2,339.2 L658.7,339.0 L659.1,338.5 L659.6,337.5 L660.1,339.2 L660.6,340.3 L661.1,338.9 L661.6,339.1 L662.0,340.2 L662.5,340.0 L663.0,340.1 L663.5,340.6 L664.0,341.8 L664.5,341.5 L665.0,339.5 L665.5,338.8 L666.0,336.8 L666.5,337.2 L667.0,336.2 L667.5,336.3 L668.0,336.0 L668.5,333.7 L668.9,333.1 L669.4,333.5 L669.8,331.4 L670.3,330.7 L670.7,331.2 L671.2,330.4 L671.6,330.2 L672.1,330.8 L672.5,330.2 L673.0,329.5 L673.5,330.0 L673.9,329.8 L674.4,329.7 L674.9,329.5 L675.3,330.1 L675.8,330.5 L676.2,329.6 L676.7,328.6 L677.2,328.5 L677.6,328.2 L678.1,327.2 L678.5,326.9 L679.0,326.8 L679.5,326.4 L679.9,327.1 L680.4,327.1 L680.9,327.8 L681.3,327.8 L681.8,327.9 L682.2,328.8 L682.7,328.6 L683.1,328.4 L683.6,327.9 L684.0,330.5 L684.5,330.2 L685.0,330.1 L685.4,329.7 L685.9,330.3 L686.3,330.8 L686.8,330.4 L687.2,329.7 L687.7,330.0 L688.1,331.3 L688.6,331.5 L689.0,332.6 L689.5,331.7 L689.9,332.5 L690.4,330.5 L690.8,330.0 L691.3,329.1 L691.7,329.8 L692.2,328.3 L692.6,329.1 L693.1,327.4 L693.5,326.5 L694.0,326.5 L694.5,327.2 L694.9,326.4 L695.4,325.7 L695.8,326.3 L696.3,325.7 L696.7,327.3 L697.2,325.9 L697.6,325.9 L698.1,327.0 L698.5,326.2 L699.0,324.6 L699.4,325.0 L699.9,325.2 L700.3,324.5 L700.8,324.5 L701.2,323.2 L701.7,322.3 L702.1,322.6 L702.6,322.3 L703.0,323.7 L703.5,324.2 L703.9,323.4 L704.4,322.4 L704.9,322.8 L705.3,322.8 L705.8,321.8 L706.2,322.2 L706.7,323.3 L707.1,322.3 L707.6,322.1 L708.0,322.1 L708.5,320.9 L708.9,320.4 L709.4,321.2 L709.8,321.1 L710.3,321.9 L710.7,320.2 L711.2,320.2 L711.7,319.4 L712.1,319.8 L712.6,320.7 L713.0,319.6 L713.5,320.0 L713.9,320.3 L714.4,319.9 L714.8,317.7 L715.3,318.4 L715.7,319.2 L716.2,319.5 L716.6,318.7 L717.1,318.2 L717.5,317.8 L718.0,315.3 L718.5,316.2 L718.9,315.7 L719.4,317.1 L719.8,318.5 L720.3,319.1 L720.8,319.3 L721.2,320.3 L721.7,321.9 L722.1,322.4 L722.6,322.8 L723.1,322.2 L723.5,323.1 L724.0,322.6 L724.5,324.1 L724.9,323.3 L725.4,323.5 L725.8,323.5 L726.3,323.8 L726.8,323.2 L727.2,323.0 L727.7,321.1 L728.2,321.2 L728.6,321.0 L729.1,320.4 L729.6,321.2 L730.1,321.0 L730.5,321.5 L731.0,320.9 L731.5,321.2 L731.9,320.4 L732.4,319.0 L732.9,319.3 L733.4,317.9 L733.8,318.1 L734.3,316.1 L734.8,315.1 L735.2,316.5 L735.7,315.0 L736.2,316.0 L736.6,315.6 L737.1,317.6 L737.5,317.4 L738.0,317.4 L738.5,317.9 L738.9,316.7 L739.4,317.2 L739.9,316.2 L740.3,315.9 L740.8,315.5 L741.2,317.0 L741.7,316.7 L742.2,317.0 L742.6,316.9 L743.1,317.0 L743.5,317.5 L744.0,316.8 L744.5,316.1 L744.9,315.2 L745.4,314.9 L745.9,315.0 L746.3,312.9 L746.8,312.5 L747.3,312.1 L747.7,313.0 L748.2,313.6 L748.7,313.4 L749.1,313.2 L749.6,311.1 L750.1,309.6 L750.5,309.2 L751.0,309.7 L751.5,308.9 L751.9,308.8 L752.4,308.2 L752.9,309.2 L753.3,307.4 L753.8,307.4 L754.3,308.7 L754.7,311.0 L755.2,311.5 L755.7,311.7 L756.1,312.7 L756.6,313.5 L757.1,314.5 L757.6,316.8 L758.2,319.6 L758.7,319.8 L759.2,320.2 L759.7,322.0 L760.2,321.2 L760.6,321.0 L761.1,320.2 L761.6,319.9 L762.0,319.5 L762.5,319.8 L763.0,319.5 L763.4,317.6 L763.9,318.7 L764.4,318.1 L764.8,318.9 L765.3,319.1 L765.8,320.2 L766.3,321.1 L766.7,320.9 L767.2,321.7 L767.7,323.1 L768.2,324.5 L768.6,325.3 L769.1,325.1 L769.6,325.9 L770.1,327.2 L770.5,328.8 L771.0,328.6 L771.5,328.1 L771.9,326.8 L772.4,324.8 L772.9,324.2 L773.3,324.5 L773.8,323.6 L774.3,323.5 L774.8,324.6 L775.2,322.1 L775.7,319.5 L776.2,318.6 L776.6,318.1 L777.1,316.6 L777.6,316.5 L778.0,315.9 L778.5,314.5 L779.0,315.3 L779.4,316.6 L779.9,316.5 L780.4,316.3 L780.9,317.8 L781.3,318.8 L781.8,319.5 L782.3,319.6 L782.8,322.0 L783.2,321.9 L783.7,322.3 L784.2,322.4 L784.6,325.1 L785.1,324.4 L785.6,325.5 L786.0,326.0 L786.5,326.5 L787.0,328.6 L787.4,328.8 L787.9,329.8 L788.4,331.0 L788.8,331.8 L789.3,332.3 L789.7,333.6 L790.2,333.6 L790.6,334.2 L791.1,335.4 L791.5,336.9 L792.0,337.1 L792.5,336.0 L793.0,335.5 L793.5,334.2 L794.0,332.9 L794.5,333.5 L795.0,333.0 L795.5,332.4 L796.0,330.8 L796.5,332.0 L796.9,332.8 L797.4,334.7 L797.8,336.0 L798.3,337.3 L798.8,337.8 L799.2,339.9 L799.7,340.6 L800.1,341.2 L800.6,343.0 L801.0,345.1 L801.5,347.1 L802.0,345.2 L802.4,344.4 L802.9,343.7 L803.4,343.7 L803.9,342.5 L804.3,341.8 L804.8,341.8 L805.3,339.9 L805.8,339.1 L806.2,337.5 L806.7,337.2 L807.2,337.0 L807.6,337.6 L808.1,336.9 L808.5,336.1 L809.0,334.3 L809.4,334.9 L809.9,335.1 L810.3,334.8 L810.8,334.6 L811.2,334.4 L811.7,333.8 L812.1,332.4 L812.6,331.4 L813.0,332.5 L813.5,329.8 L813.9,329.9 L814.4,331.2 L814.8,330.2 L815.3,328.1 L815.7,327.9 L816.2,328.9 L816.6,328.9 L817.1,328.2 L817.5,325.7 L818.0,325.1 L818.5,324.8 L818.9,325.2 L819.4,326.3 L819.9,327.4 L820.3,327.9 L820.8,328.6 L821.3,329.8 L821.8,330.6 L822.2,331.6 L822.7,332.3 L823.2,333.0 L823.6,332.8 L824.1,332.6 L824.6,333.8 L825.0,334.9 L825.5,334.0 L826.0,334.4 L826.5,335.3 L827.0,336.5 L827.5,337.8 L828.0,339.5 L828.5,339.7 L829.0,341.5 L829.5,341.0 L829.9,341.8 L830.4,341.8 L830.8,342.8 L831.3,344.4 L831.7,345.3 L832.2,345.2 L832.6,346.2 L833.1,346.8 L833.5,348.4 L834.0,348.0 L834.5,348.4 L834.9,347.3 L835.4,346.2 L835.8,346.1 L836.3,345.4 L836.8,344.9 L837.2,344.6 L837.7,343.5 L838.1,343.7 L838.6,342.2 L839.1,342.0 L839.5,342.0 L840.0,342.1 L840.4,341.4 L840.9,339.1 L841.4,339.1 L841.8,338.3 L842.3,338.8 L842.8,338.5 L843.2,336.6 L843.7,336.1 L844.2,336.7 L844.6,336.8 L845.1,335.8 L845.6,334.8 L846.0,333.9 L846.5,333.7 L847.0,332.7 L847.4,333.3 L847.9,333.5 L848.4,332.7 L848.8,334.3 L849.3,333.5 L849.7,334.9 L850.2,335.9 L850.7,335.7 L851.1,335.6 L851.6,335.9 L852.1,336.6 L852.5,337.1 L853.0,337.0 L853.4,337.1 L853.9,338.0 L854.4,338.2 L854.8,338.9 L855.3,337.2 L855.8,336.9 L856.2,337.4 L856.7,338.6 L857.1,338.9 L857.6,338.7 L858.1,338.8 L858.5,337.5 L859.0,337.9 L859.5,337.5 L859.9,338.4 L860.4,336.7 L860.8,335.9 L861.3,335.4 L861.8,335.2 L862.2,335.3 L862.7,336.0 L863.2,334.9 L863.6,333.1 L864.1,333.7 L864.5,333.5 L865.0,333.0 L865.5,333.4 L865.9,333.7 L866.4,333.1 L866.9,332.6 L867.3,331.8 L867.8,331.0 L868.2,330.1 L868.7,329.9 L869.2,330.5 L869.6,330.6 L870.1,329.2 L870.5,330.3 L871.0,331.1 L871.5,331.7 L871.9,332.3 L872.4,333.1 L872.9,334.3 L873.3,334.7 L873.8,334.9 L874.2,335.8 L874.7,336.3 L875.2,337.1 L875.6,337.5 L876.1,339.0 L876.5,339.7 L877.0,339.0 L877.5,339.0 L877.9,338.7 L878.4,337.9 L878.8,339.1 L879.2,337.2 L879.7,336.8 L880.1,335.0 L880.6,335.1 L881.0,334.9 L881.5,335.5 L882.0,335.2 L882.4,334.9 L882.9,334.5 L883.3,334.5 L883.8,333.8 L884.2,332.8 L884.6,332.5 L885.1,333.0 L885.6,332.5 L886.0,332.7 L886.5,331.6 L886.9,330.4 L887.4,330.7 L887.8,329.8 L888.2,329.4 L888.7,329.0 L889.1,329.4 L889.6,329.4 L890.1,329.9 L890.5,329.5 L891.0,330.0 L891.5,330.4 L891.9,330.5 L892.4,330.6 L892.9,330.3 L893.3,330.5 L893.8,329.7 L894.3,330.8 L894.7,330.7 L895.2,330.4 L895.7,330.9 L896.1,330.0 L896.6,329.0 L897.1,330.6 L897.5,329.6 L898.0,329.3 L898.5,328.4 L898.9,328.8 L899.4,328.4 L899.9,329.8 L900.3,328.8 L900.8,329.3 L901.3,327.8 L901.7,326.5 L902.2,327.8 L902.7,326.4 L903.1,325.4 L903.6,326.1 L904.0,325.2 L904.5,324.6 L905.0,322.8 L905.4,322.5 L905.9,323.4 L906.4,321.9 L906.8,322.8 L907.3,322.3 L907.8,322.1 L908.2,321.7 L908.7,321.5 L909.1,320.1 L909.6,321.5 L910.1,322.1 L910.5,320.8 L911.0,319.8 L911.5,319.9 L911.9,319.8 L912.4,320.4 L912.8,321.2 L913.3,321.7 L913.8,319.2 L914.2,317.7 L914.7,316.7 L915.2,317.7 L915.6,317.5 L916.1,318.1 L916.6,317.2 L917.0,318.2 L917.5,318.8 L918.0,319.2 L918.4,319.4 L918.9,319.0 L919.4,318.9 L919.8,320.1 L920.3,320.7 L920.8,321.5 L921.2,322.3 L921.7,322.8 L922.2,322.1 L922.6,323.3 L923.1,322.2 L923.6,322.4 L924.0,322.0 L924.5,321.4 L925.0,321.5 L925.4,320.7 L925.9,321.1 L926.3,320.6 L926.8,321.7 L927.3,321.1 L927.7,320.4 L928.2,320.9 L928.6,319.8 L929.1,320.3 L929.6,320.6 L930.0,319.8 L930.5,319.4 L930.9,319.5 L931.4,319.2 L931.9,320.7 L932.3,320.5 L932.8,321.0 L933.3,321.6 L933.7,322.1 L934.2,322.3 L934.7,324.4 L935.1,325.3 L935.6,324.8 L936.1,326.5 L936.5,327.0 L937.0,327.7 L937.5,327.2 L938.0,324.8 L938.5,324.1 L939.0,322.8 L939.5,322.3 L940.0,322.9 L940.5,322.7 L941.0,321.8 L941.5,322.1 L942.0,324.2 L942.4,324.4 L942.9,325.2 L943.4,326.6 L943.9,326.8 L944.3,328.9 L944.8,329.2 L945.3,330.6 L945.8,329.0 L946.3,328.3 L946.7,326.3 L947.2,326.4 L947.7,325.5 L948.2,323.9 L948.6,324.4 L949.1,322.6 L949.6,323.3 L950.1,322.0 L950.6,320.5 L951.0,320.5 L951.5,320.1 L952.0,318.7 L952.5,319.2 L952.9,318.7 L953.4,317.5 L953.8,318.1 L954.3,316.2 L954.7,314.8 L955.2,314.0 L955.7,315.3 L956.1,314.5 L956.6,314.7 L957.0,316.1 L957.5,313.4 L957.9,313.0 L958.4,312.4 L958.9,311.7 L959.3,313.0 L959.8,311.9 L960.2,311.6 L960.7,310.9 L961.1,310.8 L961.6,311.9 L962.1,311.8 L962.5,311.2 L963.0,311.5 L963.4,311.5 L963.9,311.7 L964.3,310.3 L964.8,310.0 L965.3,309.5 L965.7,308.6 L966.2,308.3 L966.7,307.3 L967.1,307.9 L967.6,308.1 L968.1,306.8 L968.5,306.7 L969.0,306.2 L969.5,305.6 L969.9,304.5 L970.4,305.4 L970.9,305.8 L971.3,304.5 L971.8,304.9 L972.3,304.1 L972.7,304.7 L973.2,304.7 L973.7,303.8 L974.1,303.2 L974.6,302.6 L975.1,302.2 L975.5,301.9 L976.0,302.6 L976.5,301.4 L976.9,301.7 L977.4,302.2 L977.9,299.1 L978.3,299.2 L978.8,299.8 L979.2,298.7 L979.7,300.0 L980.2,299.4 L980.6,300.7 L981.1,299.4 L981.6,301.3 L982.0,299.9 L982.5,297.4 L982.9,297.7 L983.4,296.6 L983.9,296.6 L984.3,296.6 L984.8,296.1 L985.3,296.2 L985.7,297.3 L986.2,295.5 L986.6,297.0 L987.1,296.1 L987.6,296.5 L988.0,294.5 L988.5,294.9 L989.0,295.1 L989.4,296.2 L989.9,295.8 L990.4,296.7 L990.8,296.8 L991.3,297.0 L991.8,298.9 L992.2,299.3 L992.7,299.6 L993.2,301.5 L993.6,299.8 L994.1,300.9 L994.6,302.2 L995.0,304.2 L995.5,305.1 L996.0,303.4 L996.4,302.1 L996.9,301.0 L997.4,299.7 L997.8,298.8 L998.3,298.0 L998.7,298.1 L999.2,297.5 L999.7,296.0 L1000.1,295.9 L1000.6,296.9 L1001.1,297.2 L1001.5,296.6 L1002.0,295.8 L1002.4,294.2 L1002.9,294.1 L1003.4,292.6 L1003.8,293.7 L1004.3,291.9 L1004.8,291.6 L1005.2,291.8 L1005.7,291.9 L1006.1,291.0 L1006.6,290.9 L1007.0,289.1 L1007.5,289.5 L1008.0,290.4 L1008.4,290.4 L1008.9,290.0 L1009.3,289.1 L1009.8,289.4 L1010.3,289.4 L1010.7,288.8 L1011.2,289.3 L1011.6,288.9 L1012.1,287.7 L1012.5,287.2 L1013.0,287.7 L1013.5,286.6 L1013.9,285.6 L1014.4,286.0 L1014.9,286.6 L1015.3,286.9 L1015.8,286.5 L1016.3,286.8 L1016.7,285.4 L1017.2,283.3 L1017.7,282.3 L1018.1,283.8 L1018.6,283.2 L1019.1,282.8 L1019.5,280.3 L1020.0,279.8 L1020.5,279.4 L1020.9,281.1 L1021.4,282.3 L1021.9,283.8 L1022.3,285.8 L1022.8,285.5 L1023.3,287.3 L1023.7,288.8 L1024.2,290.3 L1024.7,290.6 L1025.1,290.3 L1025.6,292.2 L1026.1,294.3 L1026.5,295.6 L1027.0,296.8 L1027.5,296.4 L1027.9,294.0 L1028.4,295.8 L1028.8,292.0 L1029.3,293.2 L1029.7,292.6 L1030.2,289.7 L1030.6,289.5 L1031.1,288.6 L1031.5,286.6 L1032.0,285.7 L1032.5,286.8 L1032.9,286.4 L1033.4,286.0 L1033.8,287.0 L1034.3,288.8 L1034.8,288.1 L1035.2,290.0 L1035.7,291.0 L1036.2,289.8 L1036.6,289.6 L1037.1,288.5 L1037.5,287.0 L1038.0,286.1 L1038.5,285.6 L1038.9,284.8 L1039.4,283.0 L1039.8,282.3 L1040.3,282.1 L1040.8,282.1 L1041.2,281.9 L1041.7,280.7 L1042.1,279.4 L1042.6,280.3 L1043.1,280.2 L1043.5,279.4 L1044.0,277.3 L1044.5,279.1 L1044.9,278.2 L1045.4,278.0 L1045.9,278.6 L1046.3,277.1 L1046.8,275.6 L1047.3,275.9 L1047.7,276.1 L1048.2,277.5 L1048.7,278.6 L1049.1,276.7 L1049.6,277.4 L1050.1,277.3 L1050.5,276.6 L1051.0,275.2 L1051.5,274.7 L1052.0,277.0 L1052.4,276.5 L1052.9,273.6 L1053.4,273.6 L1053.9,274.7 L1054.3,273.5 L1054.8,272.8 L1055.3,273.0 L1055.7,271.7 L1056.2,273.4 L1056.7,273.3 L1057.2,272.7 L1057.6,272.4 L1058.1,272.0 L1058.6,272.2 L1059.1,273.6 L1059.5,272.5 L1060.0,272.5 L1060.5,271.0 L1060.9,271.1 L1061.4,272.0 L1061.8,270.6 L1062.3,270.3 L1062.7,270.4 L1063.2,269.3 L1063.6,269.2 L1064.1,266.7 L1064.5,265.4 L1065.0,263.9 L1065.5,265.7 L1065.9,266.0 L1066.4,265.9 L1066.9,267.6 L1067.3,267.8 L1067.8,268.1 L1068.3,269.1 L1068.7,270.2 L1069.2,271.4 L1069.7,271.4 L1070.1,273.4 L1070.6,275.7 L1071.1,274.7 L1071.5,274.9 L1072.0,276.0 L1072.5,275.7 L1072.9,274.7 L1073.3,272.6 L1073.8,273.1 L1074.2,271.9 L1074.7,272.3 L1075.2,272.3 L1075.6,270.2 L1076.1,268.2 L1076.5,268.6 L1077.0,267.6 L1077.4,266.8 L1077.9,267.1 L1078.3,266.2 L1078.8,267.3 L1079.3,265.8 L1079.7,267.8 L1080.2,266.1 L1080.7,266.6 L1081.1,268.4 L1081.6,267.1 L1082.1,266.4 L1082.5,266.2 L1083.0,266.3 L1083.5,268.3 L1084.0,270.3 L1084.4,270.3 L1084.9,270.9 L1085.4,272.1 L1085.9,272.6 L1086.4,275.8 L1086.8,276.8 L1087.3,276.6 L1087.8,276.6 L1088.3,278.7 L1088.7,279.6 L1089.2,280.2 L1089.6,282.1 L1090.1,281.8 L1090.5,283.5 L1091.0,283.2 L1091.5,283.0 L1091.9,281.5 L1092.3,281.0 L1092.8,280.0 L1093.2,279.5 L1093.7,278.7 L1094.2,282.6 L1094.7,286.6 L1095.2,289.2 L1095.7,292.4 L1096.1,295.8 L1096.6,297.3 L1097.1,301.0 L1097.6,302.4 L1098.1,299.0 L1098.6,297.0 L1099.0,296.1 L1099.5,292.6 L1100.0,289.2 L1100.6,290.5 L1101.1,292.1 L1101.7,293.2 L1102.2,290.0 L1102.6,287.3 L1103.1,287.0 L1103.6,284.4 L1104.1,282.5 L1104.5,281.7 L1105.0,279.9 L1105.5,277.2 L1105.9,276.9 L1106.4,278.5 L1106.8,276.7 L1107.3,276.8 L1107.7,275.7 L1108.2,276.4 L1108.6,276.3 L1109.1,276.8 L1109.5,275.6 L1110.0,276.1 L1110.5,273.8 L1111.0,273.9 L1111.4,274.6 L1111.9,274.2 L1112.4,272.1 L1112.8,272.5 L1113.3,271.9 L1113.8,271.5 L1114.3,271.2 L1114.8,271.2 L1115.2,271.8 L1115.7,273.0 L1116.2,270.4 L1116.6,268.8 L1117.1,269.2 L1117.5,266.7 L1118.0,266.8 L1118.5,266.5 L1118.9,265.5 L1119.4,264.7 L1119.8,263.9 L1120.3,263.1 L1120.8,264.5 L1121.2,263.9 L1121.7,262.1 L1122.1,261.7 L1122.6,260.6 L1123.1,261.1 L1123.5,261.9 L1124.0,262.2 L1124.5,262.4 L1125.0,262.4 L1125.4,262.0 L1125.9,262.4 L1126.4,262.0 L1126.9,262.8 L1127.3,262.0 L1127.8,260.8 L1128.3,259.8 L1128.7,259.3 L1129.2,259.1 L1129.6,258.4 L1130.1,257.1 L1130.5,256.5 L1131.0,256.1 L1131.5,256.3 L1131.9,257.4 L1132.4,258.4 L1132.8,260.3 L1133.3,258.0 L1133.8,258.2 L1134.2,256.9 L1134.7,257.3 L1135.1,255.7 L1135.6,257.5 L1136.0,257.1 L1136.5,256.7 L1137.0,255.1 L1137.4,255.3 L1137.9,255.1 L1138.4,256.1 L1138.9,253.7 L1139.3,254.9 L1139.8,255.5 L1140.3,253.9 L1140.8,253.1 L1141.2,252.9 L1141.7,252.2 L1142.2,253.1 L1142.7,252.4 L1143.1,250.9 L1143.6,251.6 L1144.1,250.3 L1144.6,250.0 L1145.0,248.3 L1145.5,247.8 L1146.0,247.8 L1146.5,247.8 L1147.0,249.3 L1147.5,249.4 L1148.0,249.5" fill="none" stroke="#45d0e0" stroke-width="3" stroke-linejoin="round" stroke-linecap="round"/>
</svg>
<div class="yl" style="top:156.1px">350.00%</div>
<div class="yl" style="top:188.9px">300.00%</div>
<div class="yl" style="top:222.9px">250.00%</div>
<div class="yl" style="top:256.09999999999997px">200.00%</div>
<div class="yl" style="top:290.09999999999997px">150.00%</div>
<div class="yl" style="top:323.7px">100.00%</div>
<div class="yl" style="top:356.9px">50.00%</div>
<div class="yl" style="top:390.5px">0.00%</div>
<div class="xl" style="left:26.7px">2015</div>
<div class="xl" style="left:116.7px">2016</div>
<div class="xl" style="left:222.7px">2017</div>
<div class="xl" style="left:328.7px">2018</div>
<div class="xl" style="left:434.7px">20<span style="visibility:hidden;letter-spacing:0">1</span>9</div>
<div class="xl" style="left:540.7px">2020</div>
<div class="xl" style="left:646.7px">2021</div>
<div class="xl" style="left:753.7px">2022</div>
<div class="xl" style="left:858.7px">2023</div>
<div class="xl" style="left:964.7px">2024</div>
<div class="xl" style="left:1070.7px">2025</div>
<div class="tag" style="left:1197px;top:118.2px;width:58.8px;background:#4287f5;color:#fff;">Portfolio</div>
<div class="tag tv" style="left:1256.8px;top:118.2px;width:68.8px;background:#4287f5;color:#fff;">405.41%</div>
<div class="tag" style="left:1221px;top:240.9px;width:34.8px;background:#45d0e0;color:#0a0a0a;letter-spacing:-1.2px;padding-left:1px;box-sizing:border-box;">SPX</div>
<div class="tag tv" style="left:1256.8px;top:240.9px;width:68.8px;background:#45d0e0;color:#0a0a0a;">221.24%</div>
<div class="red"></div>
<div class="st" style="left:118px"><div class="a">1 month</div><div class="b">5.64%</div></div>
<div class="st" style="left:342px"><div class="a">3 months</div><div class="b">14.64%</div></div>
<div class="st" style="left:566px"><div class="a">6 months</div><div class="b">27.67%</div></div>
<div class="st" style="left:790px"><div class="a">Year to date</div><div class="b">14.54%</div></div>
<div class="st" style="left:1015px"><div class="a">1 year</div><div class="b">21.87%</div></div>
<div class="st sel" style="left:1239px"><div class="a">All time</div><div class="b">405.41%</div></div>
</body></html>
